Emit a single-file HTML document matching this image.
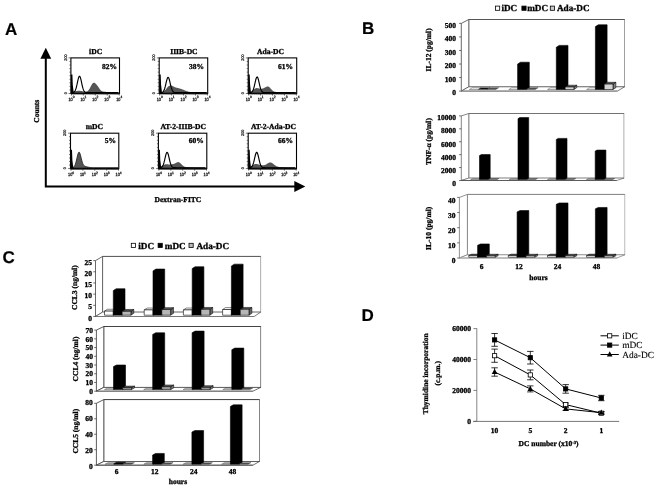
<!DOCTYPE html>
<html><head><meta charset="utf-8"><title>Figure</title>
<style>html,body{margin:0;padding:0;background:#fff;overflow:hidden}body{width:659px;height:488px;font-family:"Liberation Serif",serif}svg{display:block}</style>
</head><body>
<svg width="659" height="488" viewBox="0 0 659 488" style="filter:blur(0.5px);text-rendering:geometricPrecision">
<text x="4.90" y="34.90" font-family="Liberation Sans" font-weight="bold" font-size="17" text-anchor="start" fill="#000" stroke="#000" stroke-width="0.2">A</text>
<text x="361.90" y="34.40" font-family="Liberation Sans" font-weight="bold" font-size="17" text-anchor="start" fill="#000" stroke="#000" stroke-width="0.2">B</text>
<text x="2.60" y="262.90" font-family="Liberation Sans" font-weight="bold" font-size="17" text-anchor="start" fill="#000" stroke="#000" stroke-width="0.2">C</text>
<text x="361.60" y="320.80" font-family="Liberation Sans" font-weight="bold" font-size="17" text-anchor="start" fill="#000" stroke="#000" stroke-width="0.2">D</text>
<path d="M45.8 58 V186.45 H296" fill="none" stroke="#000" stroke-width="2.0"/>
<polygon points="45.8,47.8 40.4,58.8 51.2,58.8" fill="#000"/>
<polygon points="305.3,186.45 294.3,181.0 294.3,191.9" fill="#000"/>
<text x="39.00" y="111.20" font-family="Liberation Serif" font-weight="bold" font-size="7.5" text-anchor="middle" fill="#000" transform="rotate(-90 39.00 111.20)" stroke="#000" stroke-width="0.3">Counts</text>
<text x="177.90" y="202.10" font-family="Liberation Serif" font-weight="bold" font-size="7.5" text-anchor="middle" fill="#000" stroke="#000" stroke-width="0.3">Dextran-FITC</text>
<path d="M71.70 93.50 L71.70 91.96 L72.20 91.87 L72.70 91.77 L73.20 91.66 L73.70 91.55 L74.20 91.44 L74.70 91.34 L75.20 91.23 L75.70 91.13 L76.20 91.04 L76.70 90.97 L77.20 90.90 L77.70 90.85 L78.20 90.82 L78.70 90.80 L79.20 90.80 L79.70 90.82 L80.20 90.86 L80.70 90.91 L81.20 90.98 L81.70 91.06 L82.20 91.15 L82.70 91.24 L83.20 91.34 L83.70 91.43 L84.20 91.52 L84.70 91.59 L85.20 91.63 L85.70 91.63 L86.20 91.58 L86.70 91.47 L87.20 91.26 L87.70 90.95 L88.20 90.51 L88.70 89.95 L89.20 89.25 L89.70 88.44 L90.20 87.53 L90.70 86.57 L91.20 85.62 L91.70 84.71 L92.20 83.93 L92.70 83.31 L93.20 82.89 L93.70 82.68 L94.20 82.68 L94.70 82.86 L95.20 83.19 L95.70 83.63 L96.20 84.15 L96.70 84.74 L97.20 85.38 L97.70 86.08 L98.20 86.81 L98.70 87.56 L99.20 88.32 L99.70 89.04 L100.20 89.69 L100.70 90.25 L101.20 90.71 L101.70 91.06 L102.20 91.32 L102.70 91.50 L103.20 91.61 L103.70 91.69 L104.20 91.74 L104.70 91.79 L105.20 91.83 L105.70 91.87 L106.20 91.92 L106.70 91.97 L107.20 92.03 L107.70 92.09 L108.20 92.15 L108.70 92.21 L109.20 92.27 L109.70 92.32 L110.20 92.37 L110.70 92.41 L111.20 92.45 L111.70 92.48 L112.20 92.51 L112.70 92.53 L113.20 92.55 L113.70 92.56 L114.20 92.57 L114.70 92.58 L115.20 92.59 L115.70 92.59 L116.20 92.59 L116.70 92.60 L117.20 92.60 L117.70 92.60 L118.20 92.60 L118.50 93.50 Z" fill="#555"/>
<path d="M72.40 92.55 L72.90 92.48 L73.40 92.36 L73.90 92.13 L74.40 91.74 L74.90 91.11 L75.40 90.16 L75.90 88.83 L76.40 87.08 L76.90 84.98 L77.40 82.65 L77.90 80.33 L78.40 78.30 L78.90 76.86 L79.40 76.22 L79.90 76.49 L80.40 77.64 L80.90 79.47 L81.40 81.71 L81.90 84.06 L82.40 86.28 L82.90 88.18 L83.40 89.68 L83.90 90.77 L84.40 91.52 L84.90 92.00 L85.40 92.28 L85.90 92.44 L86.40 92.53 L86.90 92.57 L87.40 92.59 L87.90 92.59 L88.40 92.60 L88.90 92.60 L89.40 92.60 L89.90 92.60 L90.40 92.60 L90.90 92.60 L91.40 92.60 L91.90 92.60 L92.40 92.60 L92.90 92.60 L93.40 92.60 L93.90 92.60 L94.40 92.60 L94.90 92.60 L95.40 92.60 L95.90 92.60 L96.40 92.60 L96.90 92.60 L97.40 92.60 L97.90 92.60 L98.40 92.60 L98.90 92.60 L99.40 92.60 L99.90 92.60 L100.40 92.60 L100.90 92.60 L101.40 92.60 L101.90 92.60 L102.40 92.60 L102.90 92.60 L103.40 92.60 L103.90 92.60 L104.40 92.60 L104.90 92.60 L105.40 92.60 L105.90 92.60 L106.40 92.60 L106.90 92.60 L107.40 92.60 L107.90 92.60 L108.40 92.60 L108.90 92.60 L109.40 92.60 L109.90 92.60 L110.40 92.60 L110.90 92.60 L111.40 92.60 L111.90 92.60 L112.40 92.60 L112.90 92.60 L113.40 92.60 L113.90 92.60 L114.40 92.60 L114.90 92.60 L115.40 92.60 L115.90 92.60 L116.40 92.60 L116.90 92.60 L117.40 92.60 L117.90 92.60 L118.40 92.60" fill="none" stroke="#000" stroke-width="1.15" stroke-linejoin="round"/>
<polygon points="70.90,74.50 72.40,74.50 72.80,84.90 73.80,93.50 70.90,93.50" fill="#000"/>
<rect x="70.90" y="57.90" width="48.60" height="35.60" fill="none" stroke="#000" stroke-width="1.1"/>
<line x1="70.90" y1="93.50" x2="119.50" y2="93.50" stroke="#000" stroke-width="1.6"/>
<text x="95.60" y="54.00" font-family="Liberation Serif" font-weight="bold" font-size="7.6" text-anchor="middle" fill="#000" stroke="#000" stroke-width="0.3">iDC</text>
<text x="116.90" y="69.30" font-family="Liberation Serif" font-weight="bold" font-size="7.5" text-anchor="end" fill="#000" stroke="#000" stroke-width="0.3">82%</text>
<line x1="71.40" y1="93.50" x2="71.40" y2="95.50" stroke="#222" stroke-width="0.7"/>
<text x="70.55" y="100.80" font-family="Liberation Sans" font-weight="normal" font-size="4.7" text-anchor="middle" fill="#222" textLength="4.2" lengthAdjust="spacingAndGlyphs" stroke="#222" stroke-width="0.3">10</text>
<text x="73.55" y="98.40" font-family="Liberation Sans" font-weight="normal" font-size="3.3" text-anchor="middle" fill="#222" stroke="#222" stroke-width="0.25">0</text>
<line x1="83.35" y1="93.50" x2="83.35" y2="95.50" stroke="#222" stroke-width="0.7"/>
<text x="82.50" y="100.80" font-family="Liberation Sans" font-weight="normal" font-size="4.7" text-anchor="middle" fill="#222" textLength="4.2" lengthAdjust="spacingAndGlyphs" stroke="#222" stroke-width="0.3">10</text>
<text x="85.50" y="98.40" font-family="Liberation Sans" font-weight="normal" font-size="3.3" text-anchor="middle" fill="#222" stroke="#222" stroke-width="0.25">1</text>
<line x1="95.30" y1="93.50" x2="95.30" y2="95.50" stroke="#222" stroke-width="0.7"/>
<text x="94.45" y="100.80" font-family="Liberation Sans" font-weight="normal" font-size="4.7" text-anchor="middle" fill="#222" textLength="4.2" lengthAdjust="spacingAndGlyphs" stroke="#222" stroke-width="0.3">10</text>
<text x="97.45" y="98.40" font-family="Liberation Sans" font-weight="normal" font-size="3.3" text-anchor="middle" fill="#222" stroke="#222" stroke-width="0.25">2</text>
<line x1="107.25" y1="93.50" x2="107.25" y2="95.50" stroke="#222" stroke-width="0.7"/>
<text x="106.40" y="100.80" font-family="Liberation Sans" font-weight="normal" font-size="4.7" text-anchor="middle" fill="#222" textLength="4.2" lengthAdjust="spacingAndGlyphs" stroke="#222" stroke-width="0.3">10</text>
<text x="109.40" y="98.40" font-family="Liberation Sans" font-weight="normal" font-size="3.3" text-anchor="middle" fill="#222" stroke="#222" stroke-width="0.25">3</text>
<line x1="119.20" y1="93.50" x2="119.20" y2="95.50" stroke="#222" stroke-width="0.7"/>
<text x="118.35" y="100.80" font-family="Liberation Sans" font-weight="normal" font-size="4.7" text-anchor="middle" fill="#222" textLength="4.2" lengthAdjust="spacingAndGlyphs" stroke="#222" stroke-width="0.3">10</text>
<text x="121.35" y="98.40" font-family="Liberation Sans" font-weight="normal" font-size="3.3" text-anchor="middle" fill="#222" stroke="#222" stroke-width="0.25">4</text>
<line x1="75.00" y1="93.50" x2="75.00" y2="94.70" stroke="#555" stroke-width="0.35"/>
<line x1="77.10" y1="93.50" x2="77.10" y2="94.70" stroke="#555" stroke-width="0.35"/>
<line x1="78.59" y1="93.50" x2="78.59" y2="94.70" stroke="#555" stroke-width="0.35"/>
<line x1="79.75" y1="93.50" x2="79.75" y2="94.70" stroke="#555" stroke-width="0.35"/>
<line x1="80.70" y1="93.50" x2="80.70" y2="94.70" stroke="#555" stroke-width="0.35"/>
<line x1="81.50" y1="93.50" x2="81.50" y2="94.70" stroke="#555" stroke-width="0.35"/>
<line x1="82.19" y1="93.50" x2="82.19" y2="94.70" stroke="#555" stroke-width="0.35"/>
<line x1="82.80" y1="93.50" x2="82.80" y2="94.70" stroke="#555" stroke-width="0.35"/>
<line x1="86.95" y1="93.50" x2="86.95" y2="94.70" stroke="#555" stroke-width="0.35"/>
<line x1="89.05" y1="93.50" x2="89.05" y2="94.70" stroke="#555" stroke-width="0.35"/>
<line x1="90.54" y1="93.50" x2="90.54" y2="94.70" stroke="#555" stroke-width="0.35"/>
<line x1="91.70" y1="93.50" x2="91.70" y2="94.70" stroke="#555" stroke-width="0.35"/>
<line x1="92.65" y1="93.50" x2="92.65" y2="94.70" stroke="#555" stroke-width="0.35"/>
<line x1="93.45" y1="93.50" x2="93.45" y2="94.70" stroke="#555" stroke-width="0.35"/>
<line x1="94.14" y1="93.50" x2="94.14" y2="94.70" stroke="#555" stroke-width="0.35"/>
<line x1="94.75" y1="93.50" x2="94.75" y2="94.70" stroke="#555" stroke-width="0.35"/>
<line x1="98.90" y1="93.50" x2="98.90" y2="94.70" stroke="#555" stroke-width="0.35"/>
<line x1="101.00" y1="93.50" x2="101.00" y2="94.70" stroke="#555" stroke-width="0.35"/>
<line x1="102.49" y1="93.50" x2="102.49" y2="94.70" stroke="#555" stroke-width="0.35"/>
<line x1="103.65" y1="93.50" x2="103.65" y2="94.70" stroke="#555" stroke-width="0.35"/>
<line x1="104.60" y1="93.50" x2="104.60" y2="94.70" stroke="#555" stroke-width="0.35"/>
<line x1="105.40" y1="93.50" x2="105.40" y2="94.70" stroke="#555" stroke-width="0.35"/>
<line x1="106.09" y1="93.50" x2="106.09" y2="94.70" stroke="#555" stroke-width="0.35"/>
<line x1="106.70" y1="93.50" x2="106.70" y2="94.70" stroke="#555" stroke-width="0.35"/>
<line x1="110.85" y1="93.50" x2="110.85" y2="94.70" stroke="#555" stroke-width="0.35"/>
<line x1="112.95" y1="93.50" x2="112.95" y2="94.70" stroke="#555" stroke-width="0.35"/>
<line x1="114.44" y1="93.50" x2="114.44" y2="94.70" stroke="#555" stroke-width="0.35"/>
<line x1="115.60" y1="93.50" x2="115.60" y2="94.70" stroke="#555" stroke-width="0.35"/>
<line x1="116.55" y1="93.50" x2="116.55" y2="94.70" stroke="#555" stroke-width="0.35"/>
<line x1="117.35" y1="93.50" x2="117.35" y2="94.70" stroke="#555" stroke-width="0.35"/>
<line x1="118.04" y1="93.50" x2="118.04" y2="94.70" stroke="#555" stroke-width="0.35"/>
<line x1="118.65" y1="93.50" x2="118.65" y2="94.70" stroke="#555" stroke-width="0.35"/>
<line x1="68.50" y1="57.90" x2="70.90" y2="57.90" stroke="#222" stroke-width="0.6"/>
<line x1="69.40" y1="61.46" x2="70.90" y2="61.46" stroke="#222" stroke-width="0.6"/>
<line x1="69.40" y1="65.02" x2="70.90" y2="65.02" stroke="#222" stroke-width="0.6"/>
<line x1="69.40" y1="68.58" x2="70.90" y2="68.58" stroke="#222" stroke-width="0.6"/>
<line x1="69.40" y1="72.14" x2="70.90" y2="72.14" stroke="#222" stroke-width="0.6"/>
<line x1="69.40" y1="75.70" x2="70.90" y2="75.70" stroke="#222" stroke-width="0.6"/>
<line x1="69.40" y1="79.26" x2="70.90" y2="79.26" stroke="#222" stroke-width="0.6"/>
<line x1="69.40" y1="82.82" x2="70.90" y2="82.82" stroke="#222" stroke-width="0.6"/>
<line x1="69.40" y1="86.38" x2="70.90" y2="86.38" stroke="#222" stroke-width="0.6"/>
<line x1="69.40" y1="89.94" x2="70.90" y2="89.94" stroke="#222" stroke-width="0.6"/>
<line x1="68.50" y1="93.50" x2="70.90" y2="93.50" stroke="#222" stroke-width="0.6"/>
<text x="66.90" y="57.50" font-family="Liberation Sans" font-weight="normal" font-size="3.8" text-anchor="middle" fill="#222" transform="rotate(-90 66.90 57.50)" stroke="#222" stroke-width="0.25">200</text>
<text x="66.90" y="93.10" font-family="Liberation Sans" font-weight="normal" font-size="3.8" text-anchor="middle" fill="#222" transform="rotate(-90 66.90 93.10)" stroke="#222" stroke-width="0.25">0</text>
<path d="M160.00 93.50 L160.00 92.42 L160.50 92.36 L161.00 92.28 L161.50 92.18 L162.00 92.05 L162.50 91.88 L163.00 91.66 L163.50 91.39 L164.00 91.06 L164.50 90.67 L165.00 90.21 L165.50 89.70 L166.00 89.14 L166.50 88.55 L167.00 87.95 L167.50 87.37 L168.00 86.82 L168.50 86.33 L169.00 85.93 L169.50 85.63 L170.00 85.44 L170.50 85.36 L171.00 85.39 L171.50 85.51 L172.00 85.70 L172.50 85.94 L173.00 86.21 L173.50 86.49 L174.00 86.76 L174.50 87.01 L175.00 87.23 L175.50 87.42 L176.00 87.58 L176.50 87.72 L177.00 87.85 L177.50 87.96 L178.00 88.07 L178.50 88.18 L179.00 88.30 L179.50 88.42 L180.00 88.56 L180.50 88.72 L181.00 88.88 L181.50 89.06 L182.00 89.25 L182.50 89.44 L183.00 89.64 L183.50 89.85 L184.00 90.05 L184.50 90.26 L185.00 90.46 L185.50 90.65 L186.00 90.84 L186.50 91.02 L187.00 91.19 L187.50 91.35 L188.00 91.49 L188.50 91.63 L189.00 91.75 L189.50 91.87 L190.00 91.97 L190.50 92.06 L191.00 92.14 L191.50 92.21 L192.00 92.27 L192.50 92.32 L193.00 92.37 L193.50 92.41 L194.00 92.44 L194.50 92.47 L195.00 92.50 L195.50 92.52 L196.00 92.53 L196.50 92.55 L197.00 92.56 L197.50 92.57 L198.00 92.57 L198.50 92.58 L199.00 92.58 L199.50 92.59 L200.00 92.59 L200.50 92.59 L201.00 92.59 L201.50 92.60 L202.00 92.60 L202.50 92.60 L203.00 92.60 L203.50 92.60 L204.00 92.60 L204.50 92.60 L205.00 92.60 L205.50 92.60 L206.00 92.60 L206.50 92.60 L206.70 93.50 Z" fill="#555"/>
<path d="M160.70 92.57 L161.20 92.53 L161.70 92.45 L162.20 92.30 L162.70 92.04 L163.20 91.59 L163.70 90.90 L164.20 89.87 L164.70 88.47 L165.20 86.70 L165.70 84.64 L166.20 82.44 L166.70 80.35 L167.20 78.64 L167.70 77.58 L168.20 77.32 L168.70 77.91 L169.20 79.26 L169.70 81.15 L170.20 83.32 L170.70 85.49 L171.20 87.45 L171.70 89.08 L172.20 90.33 L172.70 91.21 L173.20 91.80 L173.70 92.16 L174.20 92.37 L174.70 92.49 L175.20 92.55 L175.70 92.58 L176.20 92.59 L176.70 92.60 L177.20 92.60 L177.70 92.60 L178.20 92.60 L178.70 92.60 L179.20 92.60 L179.70 92.60 L180.20 92.60 L180.70 92.60 L181.20 92.60 L181.70 92.60 L182.20 92.60 L182.70 92.60 L183.20 92.60 L183.70 92.60 L184.20 92.60 L184.70 92.60 L185.20 92.60 L185.70 92.60 L186.20 92.60 L186.70 92.60 L187.20 92.60 L187.70 92.60 L188.20 92.60 L188.70 92.60 L189.20 92.60 L189.70 92.60 L190.20 92.60 L190.70 92.60 L191.20 92.60 L191.70 92.60 L192.20 92.60 L192.70 92.60 L193.20 92.60 L193.70 92.60 L194.20 92.60 L194.70 92.60 L195.20 92.60 L195.70 92.60 L196.20 92.60 L196.70 92.60 L197.20 92.60 L197.70 92.60 L198.20 92.60 L198.70 92.60 L199.20 92.60 L199.70 92.60 L200.20 92.60 L200.70 92.60 L201.20 92.60 L201.70 92.60 L202.20 92.60 L202.70 92.60 L203.20 92.60 L203.70 92.60 L204.20 92.60 L204.70 92.60 L205.20 92.60 L205.70 92.60 L206.20 92.60 L206.70 92.60" fill="none" stroke="#000" stroke-width="1.15" stroke-linejoin="round"/>
<polygon points="159.20,74.50 160.70,74.50 161.10,84.90 162.10,93.50 159.20,93.50" fill="#000"/>
<rect x="159.20" y="57.90" width="48.50" height="35.60" fill="none" stroke="#000" stroke-width="1.1"/>
<line x1="159.20" y1="93.50" x2="207.70" y2="93.50" stroke="#000" stroke-width="1.6"/>
<text x="183.90" y="54.00" font-family="Liberation Serif" font-weight="bold" font-size="7.6" text-anchor="middle" fill="#000" stroke="#000" stroke-width="0.3">IIIB-DC</text>
<text x="204.00" y="69.30" font-family="Liberation Serif" font-weight="bold" font-size="7.5" text-anchor="end" fill="#000" stroke="#000" stroke-width="0.3">38%</text>
<line x1="159.70" y1="93.50" x2="159.70" y2="95.50" stroke="#222" stroke-width="0.7"/>
<text x="158.85" y="100.80" font-family="Liberation Sans" font-weight="normal" font-size="4.7" text-anchor="middle" fill="#222" textLength="4.2" lengthAdjust="spacingAndGlyphs" stroke="#222" stroke-width="0.3">10</text>
<text x="161.85" y="98.40" font-family="Liberation Sans" font-weight="normal" font-size="3.3" text-anchor="middle" fill="#222" stroke="#222" stroke-width="0.25">0</text>
<line x1="171.62" y1="93.50" x2="171.62" y2="95.50" stroke="#222" stroke-width="0.7"/>
<text x="170.78" y="100.80" font-family="Liberation Sans" font-weight="normal" font-size="4.7" text-anchor="middle" fill="#222" textLength="4.2" lengthAdjust="spacingAndGlyphs" stroke="#222" stroke-width="0.3">10</text>
<text x="173.78" y="98.40" font-family="Liberation Sans" font-weight="normal" font-size="3.3" text-anchor="middle" fill="#222" stroke="#222" stroke-width="0.25">1</text>
<line x1="183.55" y1="93.50" x2="183.55" y2="95.50" stroke="#222" stroke-width="0.7"/>
<text x="182.70" y="100.80" font-family="Liberation Sans" font-weight="normal" font-size="4.7" text-anchor="middle" fill="#222" textLength="4.2" lengthAdjust="spacingAndGlyphs" stroke="#222" stroke-width="0.3">10</text>
<text x="185.70" y="98.40" font-family="Liberation Sans" font-weight="normal" font-size="3.3" text-anchor="middle" fill="#222" stroke="#222" stroke-width="0.25">2</text>
<line x1="195.47" y1="93.50" x2="195.47" y2="95.50" stroke="#222" stroke-width="0.7"/>
<text x="194.62" y="100.80" font-family="Liberation Sans" font-weight="normal" font-size="4.7" text-anchor="middle" fill="#222" textLength="4.2" lengthAdjust="spacingAndGlyphs" stroke="#222" stroke-width="0.3">10</text>
<text x="197.62" y="98.40" font-family="Liberation Sans" font-weight="normal" font-size="3.3" text-anchor="middle" fill="#222" stroke="#222" stroke-width="0.25">3</text>
<line x1="207.40" y1="93.50" x2="207.40" y2="95.50" stroke="#222" stroke-width="0.7"/>
<text x="206.55" y="100.80" font-family="Liberation Sans" font-weight="normal" font-size="4.7" text-anchor="middle" fill="#222" textLength="4.2" lengthAdjust="spacingAndGlyphs" stroke="#222" stroke-width="0.3">10</text>
<text x="209.55" y="98.40" font-family="Liberation Sans" font-weight="normal" font-size="3.3" text-anchor="middle" fill="#222" stroke="#222" stroke-width="0.25">4</text>
<line x1="163.29" y1="93.50" x2="163.29" y2="94.70" stroke="#555" stroke-width="0.35"/>
<line x1="165.39" y1="93.50" x2="165.39" y2="94.70" stroke="#555" stroke-width="0.35"/>
<line x1="166.88" y1="93.50" x2="166.88" y2="94.70" stroke="#555" stroke-width="0.35"/>
<line x1="168.04" y1="93.50" x2="168.04" y2="94.70" stroke="#555" stroke-width="0.35"/>
<line x1="168.98" y1="93.50" x2="168.98" y2="94.70" stroke="#555" stroke-width="0.35"/>
<line x1="169.78" y1="93.50" x2="169.78" y2="94.70" stroke="#555" stroke-width="0.35"/>
<line x1="170.47" y1="93.50" x2="170.47" y2="94.70" stroke="#555" stroke-width="0.35"/>
<line x1="171.08" y1="93.50" x2="171.08" y2="94.70" stroke="#555" stroke-width="0.35"/>
<line x1="175.21" y1="93.50" x2="175.21" y2="94.70" stroke="#555" stroke-width="0.35"/>
<line x1="177.31" y1="93.50" x2="177.31" y2="94.70" stroke="#555" stroke-width="0.35"/>
<line x1="178.80" y1="93.50" x2="178.80" y2="94.70" stroke="#555" stroke-width="0.35"/>
<line x1="179.96" y1="93.50" x2="179.96" y2="94.70" stroke="#555" stroke-width="0.35"/>
<line x1="180.90" y1="93.50" x2="180.90" y2="94.70" stroke="#555" stroke-width="0.35"/>
<line x1="181.70" y1="93.50" x2="181.70" y2="94.70" stroke="#555" stroke-width="0.35"/>
<line x1="182.39" y1="93.50" x2="182.39" y2="94.70" stroke="#555" stroke-width="0.35"/>
<line x1="183.00" y1="93.50" x2="183.00" y2="94.70" stroke="#555" stroke-width="0.35"/>
<line x1="187.14" y1="93.50" x2="187.14" y2="94.70" stroke="#555" stroke-width="0.35"/>
<line x1="189.24" y1="93.50" x2="189.24" y2="94.70" stroke="#555" stroke-width="0.35"/>
<line x1="190.73" y1="93.50" x2="190.73" y2="94.70" stroke="#555" stroke-width="0.35"/>
<line x1="191.89" y1="93.50" x2="191.89" y2="94.70" stroke="#555" stroke-width="0.35"/>
<line x1="192.83" y1="93.50" x2="192.83" y2="94.70" stroke="#555" stroke-width="0.35"/>
<line x1="193.63" y1="93.50" x2="193.63" y2="94.70" stroke="#555" stroke-width="0.35"/>
<line x1="194.32" y1="93.50" x2="194.32" y2="94.70" stroke="#555" stroke-width="0.35"/>
<line x1="194.93" y1="93.50" x2="194.93" y2="94.70" stroke="#555" stroke-width="0.35"/>
<line x1="199.06" y1="93.50" x2="199.06" y2="94.70" stroke="#555" stroke-width="0.35"/>
<line x1="201.16" y1="93.50" x2="201.16" y2="94.70" stroke="#555" stroke-width="0.35"/>
<line x1="202.65" y1="93.50" x2="202.65" y2="94.70" stroke="#555" stroke-width="0.35"/>
<line x1="203.81" y1="93.50" x2="203.81" y2="94.70" stroke="#555" stroke-width="0.35"/>
<line x1="204.75" y1="93.50" x2="204.75" y2="94.70" stroke="#555" stroke-width="0.35"/>
<line x1="205.55" y1="93.50" x2="205.55" y2="94.70" stroke="#555" stroke-width="0.35"/>
<line x1="206.24" y1="93.50" x2="206.24" y2="94.70" stroke="#555" stroke-width="0.35"/>
<line x1="206.85" y1="93.50" x2="206.85" y2="94.70" stroke="#555" stroke-width="0.35"/>
<line x1="156.80" y1="57.90" x2="159.20" y2="57.90" stroke="#222" stroke-width="0.6"/>
<line x1="157.70" y1="61.46" x2="159.20" y2="61.46" stroke="#222" stroke-width="0.6"/>
<line x1="157.70" y1="65.02" x2="159.20" y2="65.02" stroke="#222" stroke-width="0.6"/>
<line x1="157.70" y1="68.58" x2="159.20" y2="68.58" stroke="#222" stroke-width="0.6"/>
<line x1="157.70" y1="72.14" x2="159.20" y2="72.14" stroke="#222" stroke-width="0.6"/>
<line x1="157.70" y1="75.70" x2="159.20" y2="75.70" stroke="#222" stroke-width="0.6"/>
<line x1="157.70" y1="79.26" x2="159.20" y2="79.26" stroke="#222" stroke-width="0.6"/>
<line x1="157.70" y1="82.82" x2="159.20" y2="82.82" stroke="#222" stroke-width="0.6"/>
<line x1="157.70" y1="86.38" x2="159.20" y2="86.38" stroke="#222" stroke-width="0.6"/>
<line x1="157.70" y1="89.94" x2="159.20" y2="89.94" stroke="#222" stroke-width="0.6"/>
<line x1="156.80" y1="93.50" x2="159.20" y2="93.50" stroke="#222" stroke-width="0.6"/>
<text x="155.20" y="57.50" font-family="Liberation Sans" font-weight="normal" font-size="3.8" text-anchor="middle" fill="#222" transform="rotate(-90 155.20 57.50)" stroke="#222" stroke-width="0.25">200</text>
<text x="155.20" y="93.10" font-family="Liberation Sans" font-weight="normal" font-size="3.8" text-anchor="middle" fill="#222" transform="rotate(-90 155.20 93.10)" stroke="#222" stroke-width="0.25">0</text>
<path d="M249.00 93.50 L249.00 92.36 L249.50 92.25 L250.00 92.10 L250.50 91.91 L251.00 91.66 L251.50 91.37 L252.00 91.02 L252.50 90.63 L253.00 90.21 L253.50 89.78 L254.00 89.35 L254.50 88.96 L255.00 88.63 L255.50 88.36 L256.00 88.18 L256.50 88.09 L257.00 88.08 L257.50 88.13 L258.00 88.23 L258.50 88.36 L259.00 88.48 L259.50 88.59 L260.00 88.68 L260.50 88.73 L261.00 88.75 L261.50 88.73 L262.00 88.68 L262.50 88.59 L263.00 88.47 L263.50 88.31 L264.00 88.10 L264.50 87.85 L265.00 87.56 L265.50 87.26 L266.00 86.96 L266.50 86.70 L267.00 86.51 L267.50 86.42 L268.00 86.45 L268.50 86.62 L269.00 86.92 L269.50 87.35 L270.00 87.86 L270.50 88.42 L271.00 89.00 L271.50 89.57 L272.00 90.10 L272.50 90.56 L273.00 90.94 L273.50 91.25 L274.00 91.48 L274.50 91.65 L275.00 91.77 L275.50 91.85 L276.00 91.90 L276.50 91.93 L277.00 91.95 L277.50 91.97 L278.00 92.00 L278.50 92.02 L279.00 92.05 L279.50 92.09 L280.00 92.13 L280.50 92.17 L281.00 92.22 L281.50 92.26 L282.00 92.31 L282.50 92.35 L283.00 92.39 L283.50 92.43 L284.00 92.46 L284.50 92.49 L285.00 92.51 L285.50 92.53 L286.00 92.55 L286.50 92.56 L287.00 92.57 L287.50 92.58 L288.00 92.58 L288.50 92.59 L289.00 92.59 L289.50 92.59 L290.00 92.60 L290.50 92.60 L291.00 92.60 L291.50 92.60 L292.00 92.60 L292.50 92.60 L293.00 92.60 L293.50 92.60 L294.00 92.60 L294.50 92.60 L295.00 92.60 L295.50 92.60 L295.70 93.50 Z" fill="#555"/>
<path d="M249.70 92.57 L250.20 92.53 L250.70 92.45 L251.20 92.30 L251.70 92.02 L252.20 91.57 L252.70 90.85 L253.20 89.80 L253.70 88.37 L254.20 86.55 L254.70 84.43 L255.20 82.17 L255.70 80.03 L256.20 78.28 L256.70 77.18 L257.20 76.92 L257.70 77.53 L258.20 78.91 L258.70 80.86 L259.20 83.08 L259.70 85.30 L260.20 87.32 L260.70 88.99 L261.20 90.27 L261.70 91.17 L262.20 91.78 L262.70 92.15 L263.20 92.37 L263.70 92.49 L264.20 92.55 L264.70 92.58 L265.20 92.59 L265.70 92.60 L266.20 92.60 L266.70 92.60 L267.20 92.60 L267.70 92.60 L268.20 92.60 L268.70 92.60 L269.20 92.60 L269.70 92.60 L270.20 92.60 L270.70 92.60 L271.20 92.60 L271.70 92.60 L272.20 92.60 L272.70 92.60 L273.20 92.60 L273.70 92.60 L274.20 92.60 L274.70 92.60 L275.20 92.60 L275.70 92.60 L276.20 92.60 L276.70 92.60 L277.20 92.60 L277.70 92.60 L278.20 92.60 L278.70 92.60 L279.20 92.60 L279.70 92.60 L280.20 92.60 L280.70 92.60 L281.20 92.60 L281.70 92.60 L282.20 92.60 L282.70 92.60 L283.20 92.60 L283.70 92.60 L284.20 92.60 L284.70 92.60 L285.20 92.60 L285.70 92.60 L286.20 92.60 L286.70 92.60 L287.20 92.60 L287.70 92.60 L288.20 92.60 L288.70 92.60 L289.20 92.60 L289.70 92.60 L290.20 92.60 L290.70 92.60 L291.20 92.60 L291.70 92.60 L292.20 92.60 L292.70 92.60 L293.20 92.60 L293.70 92.60 L294.20 92.60 L294.70 92.60 L295.20 92.60 L295.70 92.60" fill="none" stroke="#000" stroke-width="1.15" stroke-linejoin="round"/>
<polygon points="248.20,74.50 249.70,74.50 250.10,84.90 251.10,93.50 248.20,93.50" fill="#000"/>
<rect x="248.20" y="57.90" width="48.50" height="35.60" fill="none" stroke="#000" stroke-width="1.1"/>
<line x1="248.20" y1="93.50" x2="296.70" y2="93.50" stroke="#000" stroke-width="1.6"/>
<text x="270.60" y="54.00" font-family="Liberation Serif" font-weight="bold" font-size="7.6" text-anchor="middle" fill="#000" stroke="#000" stroke-width="0.3">Ada-DC</text>
<text x="293.00" y="69.30" font-family="Liberation Serif" font-weight="bold" font-size="7.5" text-anchor="end" fill="#000" stroke="#000" stroke-width="0.3">61%</text>
<line x1="248.70" y1="93.50" x2="248.70" y2="95.50" stroke="#222" stroke-width="0.7"/>
<text x="247.85" y="100.80" font-family="Liberation Sans" font-weight="normal" font-size="4.7" text-anchor="middle" fill="#222" textLength="4.2" lengthAdjust="spacingAndGlyphs" stroke="#222" stroke-width="0.3">10</text>
<text x="250.85" y="98.40" font-family="Liberation Sans" font-weight="normal" font-size="3.3" text-anchor="middle" fill="#222" stroke="#222" stroke-width="0.25">0</text>
<line x1="260.62" y1="93.50" x2="260.62" y2="95.50" stroke="#222" stroke-width="0.7"/>
<text x="259.77" y="100.80" font-family="Liberation Sans" font-weight="normal" font-size="4.7" text-anchor="middle" fill="#222" textLength="4.2" lengthAdjust="spacingAndGlyphs" stroke="#222" stroke-width="0.3">10</text>
<text x="262.77" y="98.40" font-family="Liberation Sans" font-weight="normal" font-size="3.3" text-anchor="middle" fill="#222" stroke="#222" stroke-width="0.25">1</text>
<line x1="272.55" y1="93.50" x2="272.55" y2="95.50" stroke="#222" stroke-width="0.7"/>
<text x="271.70" y="100.80" font-family="Liberation Sans" font-weight="normal" font-size="4.7" text-anchor="middle" fill="#222" textLength="4.2" lengthAdjust="spacingAndGlyphs" stroke="#222" stroke-width="0.3">10</text>
<text x="274.70" y="98.40" font-family="Liberation Sans" font-weight="normal" font-size="3.3" text-anchor="middle" fill="#222" stroke="#222" stroke-width="0.25">2</text>
<line x1="284.48" y1="93.50" x2="284.48" y2="95.50" stroke="#222" stroke-width="0.7"/>
<text x="283.62" y="100.80" font-family="Liberation Sans" font-weight="normal" font-size="4.7" text-anchor="middle" fill="#222" textLength="4.2" lengthAdjust="spacingAndGlyphs" stroke="#222" stroke-width="0.3">10</text>
<text x="286.62" y="98.40" font-family="Liberation Sans" font-weight="normal" font-size="3.3" text-anchor="middle" fill="#222" stroke="#222" stroke-width="0.25">3</text>
<line x1="296.40" y1="93.50" x2="296.40" y2="95.50" stroke="#222" stroke-width="0.7"/>
<text x="295.55" y="100.80" font-family="Liberation Sans" font-weight="normal" font-size="4.7" text-anchor="middle" fill="#222" textLength="4.2" lengthAdjust="spacingAndGlyphs" stroke="#222" stroke-width="0.3">10</text>
<text x="298.55" y="98.40" font-family="Liberation Sans" font-weight="normal" font-size="3.3" text-anchor="middle" fill="#222" stroke="#222" stroke-width="0.25">4</text>
<line x1="252.29" y1="93.50" x2="252.29" y2="94.70" stroke="#555" stroke-width="0.35"/>
<line x1="254.39" y1="93.50" x2="254.39" y2="94.70" stroke="#555" stroke-width="0.35"/>
<line x1="255.88" y1="93.50" x2="255.88" y2="94.70" stroke="#555" stroke-width="0.35"/>
<line x1="257.04" y1="93.50" x2="257.04" y2="94.70" stroke="#555" stroke-width="0.35"/>
<line x1="257.98" y1="93.50" x2="257.98" y2="94.70" stroke="#555" stroke-width="0.35"/>
<line x1="258.78" y1="93.50" x2="258.78" y2="94.70" stroke="#555" stroke-width="0.35"/>
<line x1="259.47" y1="93.50" x2="259.47" y2="94.70" stroke="#555" stroke-width="0.35"/>
<line x1="260.08" y1="93.50" x2="260.08" y2="94.70" stroke="#555" stroke-width="0.35"/>
<line x1="264.21" y1="93.50" x2="264.21" y2="94.70" stroke="#555" stroke-width="0.35"/>
<line x1="266.31" y1="93.50" x2="266.31" y2="94.70" stroke="#555" stroke-width="0.35"/>
<line x1="267.80" y1="93.50" x2="267.80" y2="94.70" stroke="#555" stroke-width="0.35"/>
<line x1="268.96" y1="93.50" x2="268.96" y2="94.70" stroke="#555" stroke-width="0.35"/>
<line x1="269.90" y1="93.50" x2="269.90" y2="94.70" stroke="#555" stroke-width="0.35"/>
<line x1="270.70" y1="93.50" x2="270.70" y2="94.70" stroke="#555" stroke-width="0.35"/>
<line x1="271.39" y1="93.50" x2="271.39" y2="94.70" stroke="#555" stroke-width="0.35"/>
<line x1="272.00" y1="93.50" x2="272.00" y2="94.70" stroke="#555" stroke-width="0.35"/>
<line x1="276.14" y1="93.50" x2="276.14" y2="94.70" stroke="#555" stroke-width="0.35"/>
<line x1="278.24" y1="93.50" x2="278.24" y2="94.70" stroke="#555" stroke-width="0.35"/>
<line x1="279.73" y1="93.50" x2="279.73" y2="94.70" stroke="#555" stroke-width="0.35"/>
<line x1="280.89" y1="93.50" x2="280.89" y2="94.70" stroke="#555" stroke-width="0.35"/>
<line x1="281.83" y1="93.50" x2="281.83" y2="94.70" stroke="#555" stroke-width="0.35"/>
<line x1="282.63" y1="93.50" x2="282.63" y2="94.70" stroke="#555" stroke-width="0.35"/>
<line x1="283.32" y1="93.50" x2="283.32" y2="94.70" stroke="#555" stroke-width="0.35"/>
<line x1="283.93" y1="93.50" x2="283.93" y2="94.70" stroke="#555" stroke-width="0.35"/>
<line x1="288.06" y1="93.50" x2="288.06" y2="94.70" stroke="#555" stroke-width="0.35"/>
<line x1="290.16" y1="93.50" x2="290.16" y2="94.70" stroke="#555" stroke-width="0.35"/>
<line x1="291.65" y1="93.50" x2="291.65" y2="94.70" stroke="#555" stroke-width="0.35"/>
<line x1="292.81" y1="93.50" x2="292.81" y2="94.70" stroke="#555" stroke-width="0.35"/>
<line x1="293.75" y1="93.50" x2="293.75" y2="94.70" stroke="#555" stroke-width="0.35"/>
<line x1="294.55" y1="93.50" x2="294.55" y2="94.70" stroke="#555" stroke-width="0.35"/>
<line x1="295.24" y1="93.50" x2="295.24" y2="94.70" stroke="#555" stroke-width="0.35"/>
<line x1="295.85" y1="93.50" x2="295.85" y2="94.70" stroke="#555" stroke-width="0.35"/>
<line x1="245.80" y1="57.90" x2="248.20" y2="57.90" stroke="#222" stroke-width="0.6"/>
<line x1="246.70" y1="61.46" x2="248.20" y2="61.46" stroke="#222" stroke-width="0.6"/>
<line x1="246.70" y1="65.02" x2="248.20" y2="65.02" stroke="#222" stroke-width="0.6"/>
<line x1="246.70" y1="68.58" x2="248.20" y2="68.58" stroke="#222" stroke-width="0.6"/>
<line x1="246.70" y1="72.14" x2="248.20" y2="72.14" stroke="#222" stroke-width="0.6"/>
<line x1="246.70" y1="75.70" x2="248.20" y2="75.70" stroke="#222" stroke-width="0.6"/>
<line x1="246.70" y1="79.26" x2="248.20" y2="79.26" stroke="#222" stroke-width="0.6"/>
<line x1="246.70" y1="82.82" x2="248.20" y2="82.82" stroke="#222" stroke-width="0.6"/>
<line x1="246.70" y1="86.38" x2="248.20" y2="86.38" stroke="#222" stroke-width="0.6"/>
<line x1="246.70" y1="89.94" x2="248.20" y2="89.94" stroke="#222" stroke-width="0.6"/>
<line x1="245.80" y1="93.50" x2="248.20" y2="93.50" stroke="#222" stroke-width="0.6"/>
<text x="244.20" y="57.50" font-family="Liberation Sans" font-weight="normal" font-size="3.8" text-anchor="middle" fill="#222" transform="rotate(-90 244.20 57.50)" stroke="#222" stroke-width="0.25">200</text>
<text x="244.20" y="93.10" font-family="Liberation Sans" font-weight="normal" font-size="3.8" text-anchor="middle" fill="#222" transform="rotate(-90 244.20 93.10)" stroke="#222" stroke-width="0.25">0</text>
<path d="M71.30 168.60 L71.30 167.68 L71.80 167.66 L72.30 167.61 L72.80 167.50 L73.30 167.31 L73.80 166.98 L74.30 166.45 L74.80 165.62 L75.30 164.45 L75.80 162.89 L76.30 160.98 L76.80 158.82 L77.30 156.61 L77.80 154.61 L78.30 153.09 L78.80 152.27 L79.30 152.29 L79.80 153.12 L80.30 154.62 L80.80 156.54 L81.30 158.62 L81.80 160.61 L82.30 162.33 L82.80 163.70 L83.30 164.71 L83.80 165.41 L84.30 165.87 L84.80 166.17 L85.30 166.37 L85.80 166.53 L86.30 166.66 L86.80 166.79 L87.30 166.92 L87.80 167.04 L88.30 167.16 L88.80 167.27 L89.30 167.37 L89.80 167.45 L90.30 167.51 L90.80 167.57 L91.30 167.61 L91.80 167.64 L92.30 167.66 L92.80 167.67 L93.30 167.68 L93.80 167.69 L94.30 167.69 L94.80 167.70 L95.30 167.70 L95.80 167.70 L96.30 167.70 L96.80 167.70 L97.30 167.70 L97.80 167.70 L98.30 167.70 L98.80 167.70 L99.30 167.70 L99.80 167.70 L100.30 167.70 L100.80 167.70 L101.30 167.70 L101.80 167.70 L102.30 167.70 L102.80 167.70 L103.30 167.70 L103.80 167.70 L104.30 167.70 L104.80 167.70 L105.30 167.70 L105.80 167.70 L106.30 167.70 L106.80 167.70 L107.30 167.70 L107.80 167.70 L108.30 167.70 L108.80 167.70 L109.30 167.70 L109.80 167.70 L110.30 167.70 L110.80 167.70 L111.30 167.70 L111.80 167.70 L112.30 167.70 L112.80 167.70 L113.30 167.70 L113.80 167.70 L114.30 167.70 L114.80 167.70 L115.30 167.70 L115.80 167.70 L116.30 167.70 L116.80 167.70 L117.30 167.70 L117.80 167.70 L117.80 168.60 Z" fill="#555" stroke="#222" stroke-width="0.9"/>
<polygon points="70.50,149.80 72.00,149.80 72.40,160.20 73.40,168.60 70.50,168.60" fill="#000"/>
<rect x="70.50" y="133.20" width="48.30" height="35.40" fill="none" stroke="#000" stroke-width="1.1"/>
<line x1="70.50" y1="168.60" x2="118.80" y2="168.60" stroke="#000" stroke-width="1.6"/>
<text x="94.40" y="129.10" font-family="Liberation Serif" font-weight="bold" font-size="7.6" text-anchor="middle" fill="#000" stroke="#000" stroke-width="0.3">mDC</text>
<text x="116.00" y="143.00" font-family="Liberation Serif" font-weight="bold" font-size="7.5" text-anchor="end" fill="#000" stroke="#000" stroke-width="0.3">5%</text>
<line x1="71.00" y1="168.60" x2="71.00" y2="170.60" stroke="#222" stroke-width="0.7"/>
<text x="70.15" y="175.90" font-family="Liberation Sans" font-weight="normal" font-size="4.7" text-anchor="middle" fill="#222" textLength="4.2" lengthAdjust="spacingAndGlyphs" stroke="#222" stroke-width="0.3">10</text>
<text x="73.15" y="173.50" font-family="Liberation Sans" font-weight="normal" font-size="3.3" text-anchor="middle" fill="#222" stroke="#222" stroke-width="0.25">0</text>
<line x1="82.88" y1="168.60" x2="82.88" y2="170.60" stroke="#222" stroke-width="0.7"/>
<text x="82.03" y="175.90" font-family="Liberation Sans" font-weight="normal" font-size="4.7" text-anchor="middle" fill="#222" textLength="4.2" lengthAdjust="spacingAndGlyphs" stroke="#222" stroke-width="0.3">10</text>
<text x="85.03" y="173.50" font-family="Liberation Sans" font-weight="normal" font-size="3.3" text-anchor="middle" fill="#222" stroke="#222" stroke-width="0.25">1</text>
<line x1="94.75" y1="168.60" x2="94.75" y2="170.60" stroke="#222" stroke-width="0.7"/>
<text x="93.90" y="175.90" font-family="Liberation Sans" font-weight="normal" font-size="4.7" text-anchor="middle" fill="#222" textLength="4.2" lengthAdjust="spacingAndGlyphs" stroke="#222" stroke-width="0.3">10</text>
<text x="96.90" y="173.50" font-family="Liberation Sans" font-weight="normal" font-size="3.3" text-anchor="middle" fill="#222" stroke="#222" stroke-width="0.25">2</text>
<line x1="106.62" y1="168.60" x2="106.62" y2="170.60" stroke="#222" stroke-width="0.7"/>
<text x="105.78" y="175.90" font-family="Liberation Sans" font-weight="normal" font-size="4.7" text-anchor="middle" fill="#222" textLength="4.2" lengthAdjust="spacingAndGlyphs" stroke="#222" stroke-width="0.3">10</text>
<text x="108.78" y="173.50" font-family="Liberation Sans" font-weight="normal" font-size="3.3" text-anchor="middle" fill="#222" stroke="#222" stroke-width="0.25">3</text>
<line x1="118.50" y1="168.60" x2="118.50" y2="170.60" stroke="#222" stroke-width="0.7"/>
<text x="117.65" y="175.90" font-family="Liberation Sans" font-weight="normal" font-size="4.7" text-anchor="middle" fill="#222" textLength="4.2" lengthAdjust="spacingAndGlyphs" stroke="#222" stroke-width="0.3">10</text>
<text x="120.65" y="173.50" font-family="Liberation Sans" font-weight="normal" font-size="3.3" text-anchor="middle" fill="#222" stroke="#222" stroke-width="0.25">4</text>
<line x1="74.57" y1="168.60" x2="74.57" y2="169.80" stroke="#555" stroke-width="0.35"/>
<line x1="76.67" y1="168.60" x2="76.67" y2="169.80" stroke="#555" stroke-width="0.35"/>
<line x1="78.15" y1="168.60" x2="78.15" y2="169.80" stroke="#555" stroke-width="0.35"/>
<line x1="79.30" y1="168.60" x2="79.30" y2="169.80" stroke="#555" stroke-width="0.35"/>
<line x1="80.24" y1="168.60" x2="80.24" y2="169.80" stroke="#555" stroke-width="0.35"/>
<line x1="81.04" y1="168.60" x2="81.04" y2="169.80" stroke="#555" stroke-width="0.35"/>
<line x1="81.72" y1="168.60" x2="81.72" y2="169.80" stroke="#555" stroke-width="0.35"/>
<line x1="82.33" y1="168.60" x2="82.33" y2="169.80" stroke="#555" stroke-width="0.35"/>
<line x1="86.45" y1="168.60" x2="86.45" y2="169.80" stroke="#555" stroke-width="0.35"/>
<line x1="88.54" y1="168.60" x2="88.54" y2="169.80" stroke="#555" stroke-width="0.35"/>
<line x1="90.02" y1="168.60" x2="90.02" y2="169.80" stroke="#555" stroke-width="0.35"/>
<line x1="91.18" y1="168.60" x2="91.18" y2="169.80" stroke="#555" stroke-width="0.35"/>
<line x1="92.12" y1="168.60" x2="92.12" y2="169.80" stroke="#555" stroke-width="0.35"/>
<line x1="92.91" y1="168.60" x2="92.91" y2="169.80" stroke="#555" stroke-width="0.35"/>
<line x1="93.60" y1="168.60" x2="93.60" y2="169.80" stroke="#555" stroke-width="0.35"/>
<line x1="94.21" y1="168.60" x2="94.21" y2="169.80" stroke="#555" stroke-width="0.35"/>
<line x1="98.32" y1="168.60" x2="98.32" y2="169.80" stroke="#555" stroke-width="0.35"/>
<line x1="100.42" y1="168.60" x2="100.42" y2="169.80" stroke="#555" stroke-width="0.35"/>
<line x1="101.90" y1="168.60" x2="101.90" y2="169.80" stroke="#555" stroke-width="0.35"/>
<line x1="103.05" y1="168.60" x2="103.05" y2="169.80" stroke="#555" stroke-width="0.35"/>
<line x1="103.99" y1="168.60" x2="103.99" y2="169.80" stroke="#555" stroke-width="0.35"/>
<line x1="104.79" y1="168.60" x2="104.79" y2="169.80" stroke="#555" stroke-width="0.35"/>
<line x1="105.47" y1="168.60" x2="105.47" y2="169.80" stroke="#555" stroke-width="0.35"/>
<line x1="106.08" y1="168.60" x2="106.08" y2="169.80" stroke="#555" stroke-width="0.35"/>
<line x1="110.20" y1="168.60" x2="110.20" y2="169.80" stroke="#555" stroke-width="0.35"/>
<line x1="112.29" y1="168.60" x2="112.29" y2="169.80" stroke="#555" stroke-width="0.35"/>
<line x1="113.77" y1="168.60" x2="113.77" y2="169.80" stroke="#555" stroke-width="0.35"/>
<line x1="114.93" y1="168.60" x2="114.93" y2="169.80" stroke="#555" stroke-width="0.35"/>
<line x1="115.87" y1="168.60" x2="115.87" y2="169.80" stroke="#555" stroke-width="0.35"/>
<line x1="116.66" y1="168.60" x2="116.66" y2="169.80" stroke="#555" stroke-width="0.35"/>
<line x1="117.35" y1="168.60" x2="117.35" y2="169.80" stroke="#555" stroke-width="0.35"/>
<line x1="117.96" y1="168.60" x2="117.96" y2="169.80" stroke="#555" stroke-width="0.35"/>
<line x1="68.10" y1="133.20" x2="70.50" y2="133.20" stroke="#222" stroke-width="0.6"/>
<line x1="69.00" y1="136.74" x2="70.50" y2="136.74" stroke="#222" stroke-width="0.6"/>
<line x1="69.00" y1="140.28" x2="70.50" y2="140.28" stroke="#222" stroke-width="0.6"/>
<line x1="69.00" y1="143.82" x2="70.50" y2="143.82" stroke="#222" stroke-width="0.6"/>
<line x1="69.00" y1="147.36" x2="70.50" y2="147.36" stroke="#222" stroke-width="0.6"/>
<line x1="69.00" y1="150.90" x2="70.50" y2="150.90" stroke="#222" stroke-width="0.6"/>
<line x1="69.00" y1="154.44" x2="70.50" y2="154.44" stroke="#222" stroke-width="0.6"/>
<line x1="69.00" y1="157.98" x2="70.50" y2="157.98" stroke="#222" stroke-width="0.6"/>
<line x1="69.00" y1="161.52" x2="70.50" y2="161.52" stroke="#222" stroke-width="0.6"/>
<line x1="69.00" y1="165.06" x2="70.50" y2="165.06" stroke="#222" stroke-width="0.6"/>
<line x1="68.10" y1="168.60" x2="70.50" y2="168.60" stroke="#222" stroke-width="0.6"/>
<text x="66.50" y="132.80" font-family="Liberation Sans" font-weight="normal" font-size="3.8" text-anchor="middle" fill="#222" transform="rotate(-90 66.50 132.80)" stroke="#222" stroke-width="0.25">200</text>
<text x="66.50" y="168.20" font-family="Liberation Sans" font-weight="normal" font-size="3.8" text-anchor="middle" fill="#222" transform="rotate(-90 66.50 168.20)" stroke="#222" stroke-width="0.25">0</text>
<path d="M159.20 168.60 L159.20 167.16 L159.70 166.99 L160.20 166.80 L160.70 166.57 L161.20 166.32 L161.70 166.04 L162.20 165.75 L162.70 165.46 L163.20 165.17 L163.70 164.90 L164.20 164.67 L164.70 164.47 L165.20 164.33 L165.70 164.24 L166.20 164.21 L166.70 164.22 L167.20 164.27 L167.70 164.34 L168.20 164.41 L168.70 164.47 L169.20 164.50 L169.70 164.51 L170.20 164.48 L170.70 164.43 L171.20 164.36 L171.70 164.28 L172.20 164.20 L172.70 164.11 L173.20 164.02 L173.70 163.91 L174.20 163.77 L174.70 163.58 L175.20 163.36 L175.70 163.10 L176.20 162.82 L176.70 162.54 L177.20 162.31 L177.70 162.15 L178.20 162.09 L178.70 162.15 L179.20 162.33 L179.70 162.63 L180.20 163.02 L180.70 163.48 L181.20 163.99 L181.70 164.50 L182.20 164.99 L182.70 165.44 L183.20 165.84 L183.70 166.17 L184.20 166.44 L184.70 166.65 L185.20 166.81 L185.70 166.93 L186.20 167.02 L186.70 167.08 L187.20 167.14 L187.70 167.18 L188.20 167.22 L188.70 167.26 L189.20 167.30 L189.70 167.34 L190.20 167.38 L190.70 167.42 L191.20 167.46 L191.70 167.49 L192.20 167.53 L192.70 167.56 L193.20 167.58 L193.70 167.61 L194.20 167.63 L194.70 167.64 L195.20 167.66 L195.70 167.67 L196.20 167.68 L196.70 167.68 L197.20 167.69 L197.70 167.69 L198.20 167.69 L198.70 167.70 L199.20 167.70 L199.70 167.70 L200.20 167.70 L200.70 167.70 L201.20 167.70 L201.70 167.70 L202.20 167.70 L202.70 167.70 L203.20 167.70 L203.70 167.70 L204.20 167.70 L204.70 167.70 L205.20 167.70 L205.70 167.70 L205.80 168.60 Z" fill="#555"/>
<path d="M159.90 167.66 L160.40 167.61 L160.90 167.50 L161.40 167.31 L161.90 166.98 L162.40 166.44 L162.90 165.62 L163.40 164.44 L163.90 162.88 L164.40 160.96 L164.90 158.80 L165.40 156.60 L165.90 154.62 L166.40 153.13 L166.90 152.37 L167.40 152.46 L167.90 153.38 L168.40 154.99 L168.90 157.03 L169.40 159.25 L169.90 161.37 L170.40 163.22 L170.90 164.70 L171.40 165.81 L171.90 166.57 L172.40 167.06 L172.90 167.36 L173.40 167.53 L173.90 167.62 L174.40 167.66 L174.90 167.68 L175.40 167.69 L175.90 167.70 L176.40 167.70 L176.90 167.70 L177.40 167.70 L177.90 167.70 L178.40 167.70 L178.90 167.70 L179.40 167.70 L179.90 167.70 L180.40 167.70 L180.90 167.70 L181.40 167.70 L181.90 167.70 L182.40 167.70 L182.90 167.70 L183.40 167.70 L183.90 167.70 L184.40 167.70 L184.90 167.70 L185.40 167.70 L185.90 167.70 L186.40 167.70 L186.90 167.70 L187.40 167.70 L187.90 167.70 L188.40 167.70 L188.90 167.70 L189.40 167.70 L189.90 167.70 L190.40 167.70 L190.90 167.70 L191.40 167.70 L191.90 167.70 L192.40 167.70 L192.90 167.70 L193.40 167.70 L193.90 167.70 L194.40 167.70 L194.90 167.70 L195.40 167.70 L195.90 167.70 L196.40 167.70 L196.90 167.70 L197.40 167.70 L197.90 167.70 L198.40 167.70 L198.90 167.70 L199.40 167.70 L199.90 167.70 L200.40 167.70 L200.90 167.70 L201.40 167.70 L201.90 167.70 L202.40 167.70 L202.90 167.70 L203.40 167.70 L203.90 167.70 L204.40 167.70 L204.90 167.70 L205.40 167.70" fill="none" stroke="#000" stroke-width="1.15" stroke-linejoin="round"/>
<polygon points="158.40,149.80 159.90,149.80 160.30,160.20 161.30,168.60 158.40,168.60" fill="#000"/>
<rect x="158.40" y="133.20" width="48.40" height="35.40" fill="none" stroke="#000" stroke-width="1.1"/>
<line x1="158.40" y1="168.60" x2="206.80" y2="168.60" stroke="#000" stroke-width="1.6"/>
<text x="183.20" y="129.10" font-family="Liberation Serif" font-weight="bold" font-size="7.6" text-anchor="middle" fill="#000" stroke="#000" stroke-width="0.3">AT-2-IIIB-DC</text>
<text x="203.80" y="142.80" font-family="Liberation Serif" font-weight="bold" font-size="7.5" text-anchor="end" fill="#000" stroke="#000" stroke-width="0.3">60%</text>
<line x1="158.90" y1="168.60" x2="158.90" y2="170.60" stroke="#222" stroke-width="0.7"/>
<text x="158.05" y="175.90" font-family="Liberation Sans" font-weight="normal" font-size="4.7" text-anchor="middle" fill="#222" textLength="4.2" lengthAdjust="spacingAndGlyphs" stroke="#222" stroke-width="0.3">10</text>
<text x="161.05" y="173.50" font-family="Liberation Sans" font-weight="normal" font-size="3.3" text-anchor="middle" fill="#222" stroke="#222" stroke-width="0.25">0</text>
<line x1="170.80" y1="168.60" x2="170.80" y2="170.60" stroke="#222" stroke-width="0.7"/>
<text x="169.95" y="175.90" font-family="Liberation Sans" font-weight="normal" font-size="4.7" text-anchor="middle" fill="#222" textLength="4.2" lengthAdjust="spacingAndGlyphs" stroke="#222" stroke-width="0.3">10</text>
<text x="172.95" y="173.50" font-family="Liberation Sans" font-weight="normal" font-size="3.3" text-anchor="middle" fill="#222" stroke="#222" stroke-width="0.25">1</text>
<line x1="182.70" y1="168.60" x2="182.70" y2="170.60" stroke="#222" stroke-width="0.7"/>
<text x="181.85" y="175.90" font-family="Liberation Sans" font-weight="normal" font-size="4.7" text-anchor="middle" fill="#222" textLength="4.2" lengthAdjust="spacingAndGlyphs" stroke="#222" stroke-width="0.3">10</text>
<text x="184.85" y="173.50" font-family="Liberation Sans" font-weight="normal" font-size="3.3" text-anchor="middle" fill="#222" stroke="#222" stroke-width="0.25">2</text>
<line x1="194.60" y1="168.60" x2="194.60" y2="170.60" stroke="#222" stroke-width="0.7"/>
<text x="193.75" y="175.90" font-family="Liberation Sans" font-weight="normal" font-size="4.7" text-anchor="middle" fill="#222" textLength="4.2" lengthAdjust="spacingAndGlyphs" stroke="#222" stroke-width="0.3">10</text>
<text x="196.75" y="173.50" font-family="Liberation Sans" font-weight="normal" font-size="3.3" text-anchor="middle" fill="#222" stroke="#222" stroke-width="0.25">3</text>
<line x1="206.50" y1="168.60" x2="206.50" y2="170.60" stroke="#222" stroke-width="0.7"/>
<text x="205.65" y="175.90" font-family="Liberation Sans" font-weight="normal" font-size="4.7" text-anchor="middle" fill="#222" textLength="4.2" lengthAdjust="spacingAndGlyphs" stroke="#222" stroke-width="0.3">10</text>
<text x="208.65" y="173.50" font-family="Liberation Sans" font-weight="normal" font-size="3.3" text-anchor="middle" fill="#222" stroke="#222" stroke-width="0.25">4</text>
<line x1="162.48" y1="168.60" x2="162.48" y2="169.80" stroke="#555" stroke-width="0.35"/>
<line x1="164.58" y1="168.60" x2="164.58" y2="169.80" stroke="#555" stroke-width="0.35"/>
<line x1="166.06" y1="168.60" x2="166.06" y2="169.80" stroke="#555" stroke-width="0.35"/>
<line x1="167.22" y1="168.60" x2="167.22" y2="169.80" stroke="#555" stroke-width="0.35"/>
<line x1="168.16" y1="168.60" x2="168.16" y2="169.80" stroke="#555" stroke-width="0.35"/>
<line x1="168.96" y1="168.60" x2="168.96" y2="169.80" stroke="#555" stroke-width="0.35"/>
<line x1="169.65" y1="168.60" x2="169.65" y2="169.80" stroke="#555" stroke-width="0.35"/>
<line x1="170.26" y1="168.60" x2="170.26" y2="169.80" stroke="#555" stroke-width="0.35"/>
<line x1="174.38" y1="168.60" x2="174.38" y2="169.80" stroke="#555" stroke-width="0.35"/>
<line x1="176.48" y1="168.60" x2="176.48" y2="169.80" stroke="#555" stroke-width="0.35"/>
<line x1="177.96" y1="168.60" x2="177.96" y2="169.80" stroke="#555" stroke-width="0.35"/>
<line x1="179.12" y1="168.60" x2="179.12" y2="169.80" stroke="#555" stroke-width="0.35"/>
<line x1="180.06" y1="168.60" x2="180.06" y2="169.80" stroke="#555" stroke-width="0.35"/>
<line x1="180.86" y1="168.60" x2="180.86" y2="169.80" stroke="#555" stroke-width="0.35"/>
<line x1="181.55" y1="168.60" x2="181.55" y2="169.80" stroke="#555" stroke-width="0.35"/>
<line x1="182.16" y1="168.60" x2="182.16" y2="169.80" stroke="#555" stroke-width="0.35"/>
<line x1="186.28" y1="168.60" x2="186.28" y2="169.80" stroke="#555" stroke-width="0.35"/>
<line x1="188.38" y1="168.60" x2="188.38" y2="169.80" stroke="#555" stroke-width="0.35"/>
<line x1="189.86" y1="168.60" x2="189.86" y2="169.80" stroke="#555" stroke-width="0.35"/>
<line x1="191.02" y1="168.60" x2="191.02" y2="169.80" stroke="#555" stroke-width="0.35"/>
<line x1="191.96" y1="168.60" x2="191.96" y2="169.80" stroke="#555" stroke-width="0.35"/>
<line x1="192.76" y1="168.60" x2="192.76" y2="169.80" stroke="#555" stroke-width="0.35"/>
<line x1="193.45" y1="168.60" x2="193.45" y2="169.80" stroke="#555" stroke-width="0.35"/>
<line x1="194.06" y1="168.60" x2="194.06" y2="169.80" stroke="#555" stroke-width="0.35"/>
<line x1="198.18" y1="168.60" x2="198.18" y2="169.80" stroke="#555" stroke-width="0.35"/>
<line x1="200.28" y1="168.60" x2="200.28" y2="169.80" stroke="#555" stroke-width="0.35"/>
<line x1="201.76" y1="168.60" x2="201.76" y2="169.80" stroke="#555" stroke-width="0.35"/>
<line x1="202.92" y1="168.60" x2="202.92" y2="169.80" stroke="#555" stroke-width="0.35"/>
<line x1="203.86" y1="168.60" x2="203.86" y2="169.80" stroke="#555" stroke-width="0.35"/>
<line x1="204.66" y1="168.60" x2="204.66" y2="169.80" stroke="#555" stroke-width="0.35"/>
<line x1="205.35" y1="168.60" x2="205.35" y2="169.80" stroke="#555" stroke-width="0.35"/>
<line x1="205.96" y1="168.60" x2="205.96" y2="169.80" stroke="#555" stroke-width="0.35"/>
<line x1="156.00" y1="133.20" x2="158.40" y2="133.20" stroke="#222" stroke-width="0.6"/>
<line x1="156.90" y1="136.74" x2="158.40" y2="136.74" stroke="#222" stroke-width="0.6"/>
<line x1="156.90" y1="140.28" x2="158.40" y2="140.28" stroke="#222" stroke-width="0.6"/>
<line x1="156.90" y1="143.82" x2="158.40" y2="143.82" stroke="#222" stroke-width="0.6"/>
<line x1="156.90" y1="147.36" x2="158.40" y2="147.36" stroke="#222" stroke-width="0.6"/>
<line x1="156.90" y1="150.90" x2="158.40" y2="150.90" stroke="#222" stroke-width="0.6"/>
<line x1="156.90" y1="154.44" x2="158.40" y2="154.44" stroke="#222" stroke-width="0.6"/>
<line x1="156.90" y1="157.98" x2="158.40" y2="157.98" stroke="#222" stroke-width="0.6"/>
<line x1="156.90" y1="161.52" x2="158.40" y2="161.52" stroke="#222" stroke-width="0.6"/>
<line x1="156.90" y1="165.06" x2="158.40" y2="165.06" stroke="#222" stroke-width="0.6"/>
<line x1="156.00" y1="168.60" x2="158.40" y2="168.60" stroke="#222" stroke-width="0.6"/>
<text x="154.40" y="132.80" font-family="Liberation Sans" font-weight="normal" font-size="3.8" text-anchor="middle" fill="#222" transform="rotate(-90 154.40 132.80)" stroke="#222" stroke-width="0.25">200</text>
<text x="154.40" y="168.20" font-family="Liberation Sans" font-weight="normal" font-size="3.8" text-anchor="middle" fill="#222" transform="rotate(-90 154.40 168.20)" stroke="#222" stroke-width="0.25">0</text>
<path d="M249.00 168.60 L249.00 167.12 L249.50 166.95 L250.00 166.74 L250.50 166.51 L251.00 166.24 L251.50 165.95 L252.00 165.64 L252.50 165.32 L253.00 165.01 L253.50 164.73 L254.00 164.47 L254.50 164.26 L255.00 164.10 L255.50 164.00 L256.00 163.96 L256.50 163.98 L257.00 164.04 L257.50 164.15 L258.00 164.29 L258.50 164.45 L259.00 164.61 L259.50 164.77 L260.00 164.92 L260.50 165.05 L261.00 165.16 L261.50 165.24 L262.00 165.30 L262.50 165.33 L263.00 165.33 L263.50 165.30 L264.00 165.22 L264.50 165.09 L265.00 164.92 L265.50 164.70 L266.00 164.43 L266.50 164.13 L267.00 163.81 L267.50 163.48 L268.00 163.17 L268.50 162.89 L269.00 162.66 L269.50 162.50 L270.00 162.43 L270.50 162.44 L271.00 162.55 L271.50 162.74 L272.00 163.01 L272.50 163.33 L273.00 163.70 L273.50 164.10 L274.00 164.51 L274.50 164.90 L275.00 165.27 L275.50 165.61 L276.00 165.92 L276.50 166.18 L277.00 166.40 L277.50 166.58 L278.00 166.72 L278.50 166.84 L279.00 166.94 L279.50 167.02 L280.00 167.08 L280.50 167.14 L281.00 167.19 L281.50 167.24 L282.00 167.28 L282.50 167.33 L283.00 167.37 L283.50 167.41 L284.00 167.45 L284.50 167.49 L285.00 167.52 L285.50 167.55 L286.00 167.58 L286.50 167.61 L287.00 167.63 L287.50 167.64 L288.00 167.66 L288.50 167.67 L289.00 167.68 L289.50 167.68 L290.00 167.69 L290.50 167.69 L291.00 167.69 L291.50 167.70 L292.00 167.70 L292.50 167.70 L293.00 167.70 L293.50 167.70 L294.00 167.70 L294.50 167.70 L295.00 167.70 L295.50 167.70 L295.50 168.60 Z" fill="#555"/>
<path d="M249.70 167.64 L250.20 167.57 L250.70 167.44 L251.20 167.20 L251.70 166.80 L252.20 166.15 L252.70 165.19 L253.20 163.86 L253.70 162.15 L254.20 160.12 L254.70 157.91 L255.20 155.77 L255.70 153.95 L256.20 152.73 L256.70 152.30 L257.20 152.73 L257.70 153.95 L258.20 155.77 L258.70 157.91 L259.20 160.12 L259.70 162.15 L260.20 163.86 L260.70 165.19 L261.20 166.15 L261.70 166.80 L262.20 167.20 L262.70 167.44 L263.20 167.57 L263.70 167.64 L264.20 167.67 L264.70 167.69 L265.20 167.70 L265.70 167.70 L266.20 167.70 L266.70 167.70 L267.20 167.70 L267.70 167.70 L268.20 167.70 L268.70 167.70 L269.20 167.70 L269.70 167.70 L270.20 167.70 L270.70 167.70 L271.20 167.70 L271.70 167.70 L272.20 167.70 L272.70 167.70 L273.20 167.70 L273.70 167.70 L274.20 167.70 L274.70 167.70 L275.20 167.70 L275.70 167.70 L276.20 167.70 L276.70 167.70 L277.20 167.70 L277.70 167.70 L278.20 167.70 L278.70 167.70 L279.20 167.70 L279.70 167.70 L280.20 167.70 L280.70 167.70 L281.20 167.70 L281.70 167.70 L282.20 167.70 L282.70 167.70 L283.20 167.70 L283.70 167.70 L284.20 167.70 L284.70 167.70 L285.20 167.70 L285.70 167.70 L286.20 167.70 L286.70 167.70 L287.20 167.70 L287.70 167.70 L288.20 167.70 L288.70 167.70 L289.20 167.70 L289.70 167.70 L290.20 167.70 L290.70 167.70 L291.20 167.70 L291.70 167.70 L292.20 167.70 L292.70 167.70 L293.20 167.70 L293.70 167.70 L294.20 167.70 L294.70 167.70 L295.20 167.70" fill="none" stroke="#000" stroke-width="1.15" stroke-linejoin="round"/>
<polygon points="248.20,149.80 249.70,149.80 250.10,160.20 251.10,168.60 248.20,168.60" fill="#000"/>
<rect x="248.20" y="133.20" width="48.30" height="35.40" fill="none" stroke="#000" stroke-width="1.1"/>
<line x1="248.20" y1="168.60" x2="296.50" y2="168.60" stroke="#000" stroke-width="1.6"/>
<text x="273.50" y="129.10" font-family="Liberation Serif" font-weight="bold" font-size="7.6" text-anchor="middle" fill="#000" stroke="#000" stroke-width="0.3">AT-2-Ada-DC</text>
<text x="293.00" y="142.80" font-family="Liberation Serif" font-weight="bold" font-size="7.5" text-anchor="end" fill="#000" stroke="#000" stroke-width="0.3">66%</text>
<line x1="248.70" y1="168.60" x2="248.70" y2="170.60" stroke="#222" stroke-width="0.7"/>
<text x="247.85" y="175.90" font-family="Liberation Sans" font-weight="normal" font-size="4.7" text-anchor="middle" fill="#222" textLength="4.2" lengthAdjust="spacingAndGlyphs" stroke="#222" stroke-width="0.3">10</text>
<text x="250.85" y="173.50" font-family="Liberation Sans" font-weight="normal" font-size="3.3" text-anchor="middle" fill="#222" stroke="#222" stroke-width="0.25">0</text>
<line x1="260.57" y1="168.60" x2="260.57" y2="170.60" stroke="#222" stroke-width="0.7"/>
<text x="259.72" y="175.90" font-family="Liberation Sans" font-weight="normal" font-size="4.7" text-anchor="middle" fill="#222" textLength="4.2" lengthAdjust="spacingAndGlyphs" stroke="#222" stroke-width="0.3">10</text>
<text x="262.72" y="173.50" font-family="Liberation Sans" font-weight="normal" font-size="3.3" text-anchor="middle" fill="#222" stroke="#222" stroke-width="0.25">1</text>
<line x1="272.45" y1="168.60" x2="272.45" y2="170.60" stroke="#222" stroke-width="0.7"/>
<text x="271.60" y="175.90" font-family="Liberation Sans" font-weight="normal" font-size="4.7" text-anchor="middle" fill="#222" textLength="4.2" lengthAdjust="spacingAndGlyphs" stroke="#222" stroke-width="0.3">10</text>
<text x="274.60" y="173.50" font-family="Liberation Sans" font-weight="normal" font-size="3.3" text-anchor="middle" fill="#222" stroke="#222" stroke-width="0.25">2</text>
<line x1="284.32" y1="168.60" x2="284.32" y2="170.60" stroke="#222" stroke-width="0.7"/>
<text x="283.47" y="175.90" font-family="Liberation Sans" font-weight="normal" font-size="4.7" text-anchor="middle" fill="#222" textLength="4.2" lengthAdjust="spacingAndGlyphs" stroke="#222" stroke-width="0.3">10</text>
<text x="286.47" y="173.50" font-family="Liberation Sans" font-weight="normal" font-size="3.3" text-anchor="middle" fill="#222" stroke="#222" stroke-width="0.25">3</text>
<line x1="296.20" y1="168.60" x2="296.20" y2="170.60" stroke="#222" stroke-width="0.7"/>
<text x="295.35" y="175.90" font-family="Liberation Sans" font-weight="normal" font-size="4.7" text-anchor="middle" fill="#222" textLength="4.2" lengthAdjust="spacingAndGlyphs" stroke="#222" stroke-width="0.3">10</text>
<text x="298.35" y="173.50" font-family="Liberation Sans" font-weight="normal" font-size="3.3" text-anchor="middle" fill="#222" stroke="#222" stroke-width="0.25">4</text>
<line x1="252.27" y1="168.60" x2="252.27" y2="169.80" stroke="#555" stroke-width="0.35"/>
<line x1="254.37" y1="168.60" x2="254.37" y2="169.80" stroke="#555" stroke-width="0.35"/>
<line x1="255.85" y1="168.60" x2="255.85" y2="169.80" stroke="#555" stroke-width="0.35"/>
<line x1="257.00" y1="168.60" x2="257.00" y2="169.80" stroke="#555" stroke-width="0.35"/>
<line x1="257.94" y1="168.60" x2="257.94" y2="169.80" stroke="#555" stroke-width="0.35"/>
<line x1="258.74" y1="168.60" x2="258.74" y2="169.80" stroke="#555" stroke-width="0.35"/>
<line x1="259.42" y1="168.60" x2="259.42" y2="169.80" stroke="#555" stroke-width="0.35"/>
<line x1="260.03" y1="168.60" x2="260.03" y2="169.80" stroke="#555" stroke-width="0.35"/>
<line x1="264.15" y1="168.60" x2="264.15" y2="169.80" stroke="#555" stroke-width="0.35"/>
<line x1="266.24" y1="168.60" x2="266.24" y2="169.80" stroke="#555" stroke-width="0.35"/>
<line x1="267.72" y1="168.60" x2="267.72" y2="169.80" stroke="#555" stroke-width="0.35"/>
<line x1="268.88" y1="168.60" x2="268.88" y2="169.80" stroke="#555" stroke-width="0.35"/>
<line x1="269.82" y1="168.60" x2="269.82" y2="169.80" stroke="#555" stroke-width="0.35"/>
<line x1="270.61" y1="168.60" x2="270.61" y2="169.80" stroke="#555" stroke-width="0.35"/>
<line x1="271.30" y1="168.60" x2="271.30" y2="169.80" stroke="#555" stroke-width="0.35"/>
<line x1="271.91" y1="168.60" x2="271.91" y2="169.80" stroke="#555" stroke-width="0.35"/>
<line x1="276.02" y1="168.60" x2="276.02" y2="169.80" stroke="#555" stroke-width="0.35"/>
<line x1="278.12" y1="168.60" x2="278.12" y2="169.80" stroke="#555" stroke-width="0.35"/>
<line x1="279.60" y1="168.60" x2="279.60" y2="169.80" stroke="#555" stroke-width="0.35"/>
<line x1="280.75" y1="168.60" x2="280.75" y2="169.80" stroke="#555" stroke-width="0.35"/>
<line x1="281.69" y1="168.60" x2="281.69" y2="169.80" stroke="#555" stroke-width="0.35"/>
<line x1="282.49" y1="168.60" x2="282.49" y2="169.80" stroke="#555" stroke-width="0.35"/>
<line x1="283.17" y1="168.60" x2="283.17" y2="169.80" stroke="#555" stroke-width="0.35"/>
<line x1="283.78" y1="168.60" x2="283.78" y2="169.80" stroke="#555" stroke-width="0.35"/>
<line x1="287.90" y1="168.60" x2="287.90" y2="169.80" stroke="#555" stroke-width="0.35"/>
<line x1="289.99" y1="168.60" x2="289.99" y2="169.80" stroke="#555" stroke-width="0.35"/>
<line x1="291.47" y1="168.60" x2="291.47" y2="169.80" stroke="#555" stroke-width="0.35"/>
<line x1="292.63" y1="168.60" x2="292.63" y2="169.80" stroke="#555" stroke-width="0.35"/>
<line x1="293.57" y1="168.60" x2="293.57" y2="169.80" stroke="#555" stroke-width="0.35"/>
<line x1="294.36" y1="168.60" x2="294.36" y2="169.80" stroke="#555" stroke-width="0.35"/>
<line x1="295.05" y1="168.60" x2="295.05" y2="169.80" stroke="#555" stroke-width="0.35"/>
<line x1="295.66" y1="168.60" x2="295.66" y2="169.80" stroke="#555" stroke-width="0.35"/>
<line x1="245.80" y1="133.20" x2="248.20" y2="133.20" stroke="#222" stroke-width="0.6"/>
<line x1="246.70" y1="136.74" x2="248.20" y2="136.74" stroke="#222" stroke-width="0.6"/>
<line x1="246.70" y1="140.28" x2="248.20" y2="140.28" stroke="#222" stroke-width="0.6"/>
<line x1="246.70" y1="143.82" x2="248.20" y2="143.82" stroke="#222" stroke-width="0.6"/>
<line x1="246.70" y1="147.36" x2="248.20" y2="147.36" stroke="#222" stroke-width="0.6"/>
<line x1="246.70" y1="150.90" x2="248.20" y2="150.90" stroke="#222" stroke-width="0.6"/>
<line x1="246.70" y1="154.44" x2="248.20" y2="154.44" stroke="#222" stroke-width="0.6"/>
<line x1="246.70" y1="157.98" x2="248.20" y2="157.98" stroke="#222" stroke-width="0.6"/>
<line x1="246.70" y1="161.52" x2="248.20" y2="161.52" stroke="#222" stroke-width="0.6"/>
<line x1="246.70" y1="165.06" x2="248.20" y2="165.06" stroke="#222" stroke-width="0.6"/>
<line x1="245.80" y1="168.60" x2="248.20" y2="168.60" stroke="#222" stroke-width="0.6"/>
<text x="244.20" y="132.80" font-family="Liberation Sans" font-weight="normal" font-size="3.8" text-anchor="middle" fill="#222" transform="rotate(-90 244.20 132.80)" stroke="#222" stroke-width="0.25">200</text>
<text x="244.20" y="168.20" font-family="Liberation Sans" font-weight="normal" font-size="3.8" text-anchor="middle" fill="#222" transform="rotate(-90 244.20 168.20)" stroke="#222" stroke-width="0.25">0</text>
<rect x="495.50" y="6.10" width="4.2" height="4.2" fill="#fff" stroke="#000" stroke-width="0.8"/>
<text x="501.40" y="11.40" font-family="Liberation Serif" font-weight="bold" font-size="9.2" text-anchor="start" fill="#000" stroke="#000" stroke-width="0.3">iDC</text>
<rect x="521.90" y="6.10" width="4.2" height="4.2" fill="#000" stroke="#000" stroke-width="0.8"/>
<text x="527.20" y="11.40" font-family="Liberation Serif" font-weight="bold" font-size="9.2" text-anchor="start" fill="#000" stroke="#000" stroke-width="0.3">mDC</text>
<rect x="550.30" y="6.10" width="4.2" height="4.2" fill="#ccc" stroke="#000" stroke-width="0.8"/>
<text x="556.90" y="11.40" font-family="Liberation Serif" font-weight="bold" font-size="9.2" text-anchor="start" fill="#000" stroke="#000" stroke-width="0.3">Ada-DC</text>
<rect x="468.80" y="19.50" width="155.80" height="67.30" fill="#fff" stroke="#888" stroke-width="0.8"/>
<line x1="468.80" y1="19.50" x2="624.60" y2="19.50" stroke="#444" stroke-width="0.8"/>
<polygon points="461.30,91.10 468.80,86.80 468.80,19.50 461.30,23.40" fill="#fff" stroke="#444" stroke-width="0.8" stroke-linejoin="round"/>
<polygon points="461.30,91.10 617.40,91.10 624.60,86.80 468.80,86.80" fill="#fff" stroke="#444" stroke-width="0.7" stroke-linejoin="round"/>
<line x1="461.30" y1="91.10" x2="617.40" y2="91.10" stroke="#888" stroke-width="0.9"/>
<line x1="459.10" y1="91.10" x2="461.30" y2="91.10" stroke="#333" stroke-width="0.7"/>
<text x="455.90" y="94.95" font-family="Liberation Serif" font-weight="bold" font-size="7.5" text-anchor="end" fill="#000" stroke="#000" stroke-width="0.3">0</text>
<line x1="459.10" y1="77.56" x2="461.30" y2="77.56" stroke="#333" stroke-width="0.7"/>
<text x="455.90" y="81.53" font-family="Liberation Serif" font-weight="bold" font-size="7.5" text-anchor="end" fill="#000" stroke="#000" stroke-width="0.3">100</text>
<line x1="459.10" y1="64.02" x2="461.30" y2="64.02" stroke="#333" stroke-width="0.7"/>
<text x="455.90" y="68.11" font-family="Liberation Serif" font-weight="bold" font-size="7.5" text-anchor="end" fill="#000" stroke="#000" stroke-width="0.3">200</text>
<line x1="459.10" y1="50.48" x2="461.30" y2="50.48" stroke="#333" stroke-width="0.7"/>
<text x="455.90" y="54.69" font-family="Liberation Serif" font-weight="bold" font-size="7.5" text-anchor="end" fill="#000" stroke="#000" stroke-width="0.3">300</text>
<line x1="459.10" y1="36.94" x2="461.30" y2="36.94" stroke="#333" stroke-width="0.7"/>
<text x="455.90" y="41.27" font-family="Liberation Serif" font-weight="bold" font-size="7.5" text-anchor="end" fill="#000" stroke="#000" stroke-width="0.3">400</text>
<line x1="459.10" y1="23.40" x2="461.30" y2="23.40" stroke="#333" stroke-width="0.7"/>
<text x="455.90" y="27.85" font-family="Liberation Serif" font-weight="bold" font-size="7.5" text-anchor="end" fill="#000" stroke="#000" stroke-width="0.3">500</text>
<text x="431.20" y="49.90" font-family="Liberation Serif" font-weight="bold" font-size="7.5" text-anchor="middle" fill="#000" transform="rotate(-90 431.20 49.90)" stroke="#000" stroke-width="0.3">IL-12 (pg/ml)</text>
<polygon points="469.40,89.50 478.20,89.50 481.10,87.69 472.30,87.69" fill="#eee" stroke="#444" stroke-width="0.45" stroke-linejoin="round"/>
<polygon points="478.20,89.50 487.00,89.50 489.90,87.69 481.10,87.69" fill="#0a0a0a" stroke="#444" stroke-width="0.45" stroke-linejoin="round"/>
<polygon points="487.00,89.50 495.80,89.50 498.70,87.69 489.90,87.69" fill="#505050" stroke="#444" stroke-width="0.45" stroke-linejoin="round"/>
<polygon points="508.80,89.50 517.60,89.50 520.50,87.69 511.70,87.69" fill="#eee" stroke="#444" stroke-width="0.45" stroke-linejoin="round"/>
<polygon points="517.60,89.50 526.40,89.50 529.30,87.69 529.30,62.19 520.50,62.19 517.60,64.00" fill="#000" stroke="#000" stroke-width="0.6" stroke-linejoin="round"/>
<polygon points="526.40,89.50 535.20,89.50 538.10,87.69 529.30,87.69" fill="#505050" stroke="#444" stroke-width="0.45" stroke-linejoin="round"/>
<polygon points="547.50,89.50 556.30,89.50 559.20,87.69 550.40,87.69" fill="#eee" stroke="#444" stroke-width="0.45" stroke-linejoin="round"/>
<polygon points="556.30,89.50 565.10,89.50 568.00,87.69 568.00,45.39 559.20,45.39 556.30,47.20" fill="#000" stroke="#000" stroke-width="0.6" stroke-linejoin="round"/>
<polygon points="573.90,89.50 576.80,87.69 576.80,85.19 573.90,87.00" fill="#808080" stroke="#000" stroke-width="0.5" stroke-linejoin="round"/>
<polygon points="565.10,87.00 573.90,87.00 576.80,85.19 568.00,85.19" fill="#666" stroke="#000" stroke-width="0.5" stroke-linejoin="round"/>
<polygon points="565.10,89.50 573.90,89.50 573.90,87.00 565.10,87.00" fill="#d4d4d4" stroke="#000" stroke-width="0.6" stroke-linejoin="round"/>
<polygon points="586.60,89.50 595.40,89.50 598.30,87.69 589.50,87.69" fill="#eee" stroke="#444" stroke-width="0.45" stroke-linejoin="round"/>
<polygon points="595.40,89.50 604.20,89.50 607.10,87.69 607.10,24.79 598.30,24.79 595.40,26.60" fill="#000" stroke="#000" stroke-width="0.6" stroke-linejoin="round"/>
<polygon points="613.00,89.50 615.90,87.69 615.90,82.29 613.00,84.10" fill="#808080" stroke="#000" stroke-width="0.5" stroke-linejoin="round"/>
<polygon points="604.20,84.10 613.00,84.10 615.90,82.29 607.10,82.29" fill="#666" stroke="#000" stroke-width="0.5" stroke-linejoin="round"/>
<polygon points="604.20,89.50 613.00,89.50 613.00,84.10 604.20,84.10" fill="#d4d4d4" stroke="#000" stroke-width="0.6" stroke-linejoin="round"/>
<rect x="468.80" y="113.50" width="155.10" height="64.60" fill="#fff" stroke="#999" stroke-width="0.8"/>
<line x1="468.80" y1="113.50" x2="623.90" y2="113.50" stroke="#666" stroke-width="0.8"/>
<polygon points="461.30,180.50 468.80,178.10 468.80,113.50 461.30,115.90" fill="#fff" stroke="#666" stroke-width="0.8" stroke-linejoin="round"/>
<polygon points="461.30,180.50 616.70,180.50 623.90,178.10 468.80,178.10" fill="#fff" stroke="#666" stroke-width="0.7" stroke-linejoin="round"/>
<line x1="461.30" y1="180.50" x2="616.70" y2="180.50" stroke="#555" stroke-width="0.9"/>
<line x1="459.10" y1="180.50" x2="461.30" y2="180.50" stroke="#333" stroke-width="0.7"/>
<text x="455.90" y="185.65" font-family="Liberation Serif" font-weight="bold" font-size="7.5" text-anchor="end" fill="#000" stroke="#000" stroke-width="0.3">0</text>
<line x1="459.10" y1="167.58" x2="461.30" y2="167.58" stroke="#333" stroke-width="0.7"/>
<text x="455.90" y="172.61" font-family="Liberation Serif" font-weight="bold" font-size="7.5" text-anchor="end" fill="#000" stroke="#000" stroke-width="0.3">2000</text>
<line x1="459.10" y1="154.66" x2="461.30" y2="154.66" stroke="#333" stroke-width="0.7"/>
<text x="455.90" y="159.57" font-family="Liberation Serif" font-weight="bold" font-size="7.5" text-anchor="end" fill="#000" stroke="#000" stroke-width="0.3">4000</text>
<line x1="459.10" y1="141.74" x2="461.30" y2="141.74" stroke="#333" stroke-width="0.7"/>
<text x="455.90" y="146.53" font-family="Liberation Serif" font-weight="bold" font-size="7.5" text-anchor="end" fill="#000" stroke="#000" stroke-width="0.3">6000</text>
<line x1="459.10" y1="128.82" x2="461.30" y2="128.82" stroke="#333" stroke-width="0.7"/>
<text x="455.90" y="133.49" font-family="Liberation Serif" font-weight="bold" font-size="7.5" text-anchor="end" fill="#000" stroke="#000" stroke-width="0.3">8000</text>
<line x1="459.10" y1="115.90" x2="461.30" y2="115.90" stroke="#333" stroke-width="0.7"/>
<text x="455.90" y="120.45" font-family="Liberation Serif" font-weight="bold" font-size="7.5" text-anchor="end" fill="#000" stroke="#000" stroke-width="0.3">10000</text>
<text x="431.20" y="141.50" font-family="Liberation Serif" font-weight="bold" font-size="7.5" text-anchor="middle" fill="#000" transform="rotate(-90 431.20 141.50)" stroke="#000" stroke-width="0.3">TNF-α (pg/ml)</text>
<polygon points="470.70,179.50 479.50,179.50 481.40,178.49 472.60,178.49" fill="#bbb" stroke="#444" stroke-width="0.45" stroke-linejoin="round"/>
<polygon points="479.50,179.50 488.30,179.50 490.20,178.49 490.20,154.59 481.40,154.59 479.50,155.60" fill="#000" stroke="#000" stroke-width="0.6" stroke-linejoin="round"/>
<polygon points="488.30,179.50 497.10,179.50 499.00,178.49 490.20,178.49" fill="#505050" stroke="#444" stroke-width="0.45" stroke-linejoin="round"/>
<polygon points="509.20,179.50 518.00,179.50 519.90,178.49 511.10,178.49" fill="#bbb" stroke="#444" stroke-width="0.45" stroke-linejoin="round"/>
<polygon points="518.00,179.50 526.80,179.50 528.70,178.49 528.70,117.59 519.90,117.59 518.00,118.60" fill="#000" stroke="#000" stroke-width="0.6" stroke-linejoin="round"/>
<polygon points="526.80,179.50 535.60,179.50 537.50,178.49 528.70,178.49" fill="#505050" stroke="#444" stroke-width="0.45" stroke-linejoin="round"/>
<polygon points="547.50,179.50 556.30,179.50 558.20,178.49 549.40,178.49" fill="#bbb" stroke="#444" stroke-width="0.45" stroke-linejoin="round"/>
<polygon points="556.30,179.50 565.10,179.50 567.00,178.49 567.00,138.39 558.20,138.39 556.30,139.40" fill="#000" stroke="#000" stroke-width="0.6" stroke-linejoin="round"/>
<polygon points="565.10,179.50 573.90,179.50 575.80,178.49 567.00,178.49" fill="#505050" stroke="#444" stroke-width="0.45" stroke-linejoin="round"/>
<polygon points="586.40,179.50 595.20,179.50 597.10,178.49 588.30,178.49" fill="#bbb" stroke="#444" stroke-width="0.45" stroke-linejoin="round"/>
<polygon points="595.20,179.50 604.00,179.50 605.90,178.49 605.90,150.09 597.10,150.09 595.20,151.10" fill="#000" stroke="#000" stroke-width="0.6" stroke-linejoin="round"/>
<polygon points="604.00,179.50 612.80,179.50 614.70,178.49 605.90,178.49" fill="#505050" stroke="#444" stroke-width="0.45" stroke-linejoin="round"/>
<rect x="467.40" y="194.40" width="157.40" height="60.40" fill="#fff" stroke="#aaa" stroke-width="0.8"/>
<line x1="467.40" y1="194.40" x2="624.80" y2="194.40" stroke="#777" stroke-width="0.8"/>
<polygon points="459.40,258.00 467.40,254.80 467.40,194.40 459.40,197.40" fill="#fff" stroke="#777" stroke-width="0.8" stroke-linejoin="round"/>
<polygon points="459.40,258.00 617.00,258.00 624.80,254.80 467.40,254.80" fill="#fff" stroke="#777" stroke-width="0.7" stroke-linejoin="round"/>
<line x1="459.40" y1="258.00" x2="617.00" y2="258.00" stroke="#aaa" stroke-width="0.9"/>
<line x1="457.20" y1="258.00" x2="459.40" y2="258.00" stroke="#333" stroke-width="0.7"/>
<text x="455.40" y="263.35" font-family="Liberation Serif" font-weight="bold" font-size="7.5" text-anchor="end" fill="#000" stroke="#000" stroke-width="0.3">0</text>
<line x1="457.20" y1="242.85" x2="459.40" y2="242.85" stroke="#333" stroke-width="0.7"/>
<text x="455.40" y="248.37" font-family="Liberation Serif" font-weight="bold" font-size="7.5" text-anchor="end" fill="#000" stroke="#000" stroke-width="0.3">10</text>
<line x1="457.20" y1="227.70" x2="459.40" y2="227.70" stroke="#333" stroke-width="0.7"/>
<text x="455.40" y="233.39" font-family="Liberation Serif" font-weight="bold" font-size="7.5" text-anchor="end" fill="#000" stroke="#000" stroke-width="0.3">20</text>
<line x1="457.20" y1="212.55" x2="459.40" y2="212.55" stroke="#333" stroke-width="0.7"/>
<text x="455.40" y="218.41" font-family="Liberation Serif" font-weight="bold" font-size="7.5" text-anchor="end" fill="#000" stroke="#000" stroke-width="0.3">30</text>
<line x1="457.20" y1="197.40" x2="459.40" y2="197.40" stroke="#333" stroke-width="0.7"/>
<text x="455.40" y="203.43" font-family="Liberation Serif" font-weight="bold" font-size="7.5" text-anchor="end" fill="#000" stroke="#000" stroke-width="0.3">40</text>
<text x="431.20" y="228.30" font-family="Liberation Serif" font-weight="bold" font-size="7.5" text-anchor="middle" fill="#000" transform="rotate(-90 431.20 228.30)" stroke="#000" stroke-width="0.3">IL-10 (pg/ml)</text>
<polygon points="477.60,257.20 480.50,255.86 480.50,254.16 477.60,255.50" fill="#ddd" stroke="#000" stroke-width="0.5" stroke-linejoin="round"/>
<polygon points="468.80,255.50 477.60,255.50 480.50,254.16 471.70,254.16" fill="#444" stroke="#000" stroke-width="0.5" stroke-linejoin="round"/>
<polygon points="468.80,257.20 477.60,257.20 477.60,255.50 468.80,255.50" fill="#fff" stroke="#000" stroke-width="0.6" stroke-linejoin="round"/>
<polygon points="477.60,257.20 486.40,257.20 489.30,255.86 489.30,243.96 480.50,243.96 477.60,245.30" fill="#000" stroke="#000" stroke-width="0.6" stroke-linejoin="round"/>
<polygon points="495.20,257.20 498.10,255.86 498.10,254.26 495.20,255.60" fill="#808080" stroke="#000" stroke-width="0.5" stroke-linejoin="round"/>
<polygon points="486.40,255.60 495.20,255.60 498.10,254.26 489.30,254.26" fill="#666" stroke="#000" stroke-width="0.5" stroke-linejoin="round"/>
<polygon points="486.40,257.20 495.20,257.20 495.20,255.60 486.40,255.60" fill="#d4d4d4" stroke="#000" stroke-width="0.6" stroke-linejoin="round"/>
<polygon points="517.10,257.20 520.00,255.86 520.00,254.16 517.10,255.50" fill="#ddd" stroke="#000" stroke-width="0.5" stroke-linejoin="round"/>
<polygon points="508.30,255.50 517.10,255.50 520.00,254.16 511.20,254.16" fill="#444" stroke="#000" stroke-width="0.5" stroke-linejoin="round"/>
<polygon points="508.30,257.20 517.10,257.20 517.10,255.50 508.30,255.50" fill="#fff" stroke="#000" stroke-width="0.6" stroke-linejoin="round"/>
<polygon points="517.10,257.20 525.90,257.20 528.80,255.86 528.80,210.56 520.00,210.56 517.10,211.90" fill="#000" stroke="#000" stroke-width="0.6" stroke-linejoin="round"/>
<polygon points="534.70,257.20 537.60,255.86 537.60,254.26 534.70,255.60" fill="#808080" stroke="#000" stroke-width="0.5" stroke-linejoin="round"/>
<polygon points="525.90,255.60 534.70,255.60 537.60,254.26 528.80,254.26" fill="#666" stroke="#000" stroke-width="0.5" stroke-linejoin="round"/>
<polygon points="525.90,257.20 534.70,257.20 534.70,255.60 525.90,255.60" fill="#d4d4d4" stroke="#000" stroke-width="0.6" stroke-linejoin="round"/>
<polygon points="556.30,257.20 559.20,255.86 559.20,254.16 556.30,255.50" fill="#ddd" stroke="#000" stroke-width="0.5" stroke-linejoin="round"/>
<polygon points="547.50,255.50 556.30,255.50 559.20,254.16 550.40,254.16" fill="#444" stroke="#000" stroke-width="0.5" stroke-linejoin="round"/>
<polygon points="547.50,257.20 556.30,257.20 556.30,255.50 547.50,255.50" fill="#fff" stroke="#000" stroke-width="0.6" stroke-linejoin="round"/>
<polygon points="556.30,257.20 565.10,257.20 568.00,255.86 568.00,202.96 559.20,202.96 556.30,204.30" fill="#000" stroke="#000" stroke-width="0.6" stroke-linejoin="round"/>
<polygon points="573.90,257.20 576.80,255.86 576.80,254.26 573.90,255.60" fill="#808080" stroke="#000" stroke-width="0.5" stroke-linejoin="round"/>
<polygon points="565.10,255.60 573.90,255.60 576.80,254.26 568.00,254.26" fill="#666" stroke="#000" stroke-width="0.5" stroke-linejoin="round"/>
<polygon points="565.10,257.20 573.90,257.20 573.90,255.60 565.10,255.60" fill="#d4d4d4" stroke="#000" stroke-width="0.6" stroke-linejoin="round"/>
<polygon points="595.40,257.20 598.30,255.86 598.30,254.16 595.40,255.50" fill="#ddd" stroke="#000" stroke-width="0.5" stroke-linejoin="round"/>
<polygon points="586.60,255.50 595.40,255.50 598.30,254.16 589.50,254.16" fill="#444" stroke="#000" stroke-width="0.5" stroke-linejoin="round"/>
<polygon points="586.60,257.20 595.40,257.20 595.40,255.50 586.60,255.50" fill="#fff" stroke="#000" stroke-width="0.6" stroke-linejoin="round"/>
<polygon points="595.40,257.20 604.20,257.20 607.10,255.86 607.10,207.46 598.30,207.46 595.40,208.80" fill="#000" stroke="#000" stroke-width="0.6" stroke-linejoin="round"/>
<polygon points="613.00,257.20 615.90,255.86 615.90,254.26 613.00,255.60" fill="#808080" stroke="#000" stroke-width="0.5" stroke-linejoin="round"/>
<polygon points="604.20,255.60 613.00,255.60 615.90,254.26 607.10,254.26" fill="#666" stroke="#000" stroke-width="0.5" stroke-linejoin="round"/>
<polygon points="604.20,257.20 613.00,257.20 613.00,255.60 604.20,255.60" fill="#d4d4d4" stroke="#000" stroke-width="0.6" stroke-linejoin="round"/>
<text x="481.50" y="268.90" font-family="Liberation Serif" font-weight="bold" font-size="7.5" text-anchor="middle" fill="#000" stroke="#000" stroke-width="0.3">6</text>
<text x="518.90" y="268.90" font-family="Liberation Serif" font-weight="bold" font-size="7.5" text-anchor="middle" fill="#000" stroke="#000" stroke-width="0.3">12</text>
<text x="557.60" y="268.90" font-family="Liberation Serif" font-weight="bold" font-size="7.5" text-anchor="middle" fill="#000" stroke="#000" stroke-width="0.3">24</text>
<text x="596.50" y="268.90" font-family="Liberation Serif" font-weight="bold" font-size="7.5" text-anchor="middle" fill="#000" stroke="#000" stroke-width="0.3">48</text>
<text x="538.50" y="280.20" font-family="Liberation Serif" font-weight="bold" font-size="7.5" text-anchor="middle" fill="#000" stroke="#000" stroke-width="0.3">hours</text>
<rect x="131.30" y="243.30" width="4.2" height="4.2" fill="#fff" stroke="#000" stroke-width="0.8"/>
<text x="138.30" y="248.60" font-family="Liberation Serif" font-weight="bold" font-size="9.2" text-anchor="start" fill="#000" stroke="#000" stroke-width="0.3">iDC</text>
<rect x="158.10" y="243.30" width="4.2" height="4.2" fill="#000" stroke="#000" stroke-width="0.8"/>
<text x="164.80" y="248.60" font-family="Liberation Serif" font-weight="bold" font-size="9.2" text-anchor="start" fill="#000" stroke="#000" stroke-width="0.3">mDC</text>
<rect x="189.00" y="243.30" width="4.2" height="4.2" fill="#bbb" stroke="#000" stroke-width="0.8"/>
<text x="196.40" y="248.60" font-family="Liberation Serif" font-weight="bold" font-size="9.2" text-anchor="start" fill="#000" stroke="#000" stroke-width="0.3">Ada-DC</text>
<rect x="102.60" y="256.40" width="158.10" height="55.70" fill="#fff" stroke="#999" stroke-width="0.8"/>
<line x1="102.60" y1="256.40" x2="260.70" y2="256.40" stroke="#444" stroke-width="0.8"/>
<polygon points="95.50,316.50 102.60,312.10 102.60,256.40 95.50,260.60" fill="#fff" stroke="#444" stroke-width="0.8" stroke-linejoin="round"/>
<polygon points="95.50,316.50 254.20,316.50 260.70,312.10 102.60,312.10" fill="#fff" stroke="#444" stroke-width="0.7" stroke-linejoin="round"/>
<line x1="95.50" y1="316.50" x2="254.20" y2="316.50" stroke="#777" stroke-width="0.9"/>
<line x1="93.30" y1="316.50" x2="95.50" y2="316.50" stroke="#333" stroke-width="0.7"/>
<text x="92.10" y="320.55" font-family="Liberation Serif" font-weight="bold" font-size="7.5" text-anchor="end" fill="#000" stroke="#000" stroke-width="0.3">0</text>
<line x1="93.30" y1="305.32" x2="95.50" y2="305.32" stroke="#333" stroke-width="0.7"/>
<text x="92.10" y="309.41" font-family="Liberation Serif" font-weight="bold" font-size="7.5" text-anchor="end" fill="#000" stroke="#000" stroke-width="0.3">5</text>
<line x1="93.30" y1="294.14" x2="95.50" y2="294.14" stroke="#333" stroke-width="0.7"/>
<text x="92.10" y="298.27" font-family="Liberation Serif" font-weight="bold" font-size="7.5" text-anchor="end" fill="#000" stroke="#000" stroke-width="0.3">10</text>
<line x1="93.30" y1="282.96" x2="95.50" y2="282.96" stroke="#333" stroke-width="0.7"/>
<text x="92.10" y="287.13" font-family="Liberation Serif" font-weight="bold" font-size="7.5" text-anchor="end" fill="#000" stroke="#000" stroke-width="0.3">15</text>
<line x1="93.30" y1="271.78" x2="95.50" y2="271.78" stroke="#333" stroke-width="0.7"/>
<text x="92.10" y="275.99" font-family="Liberation Serif" font-weight="bold" font-size="7.5" text-anchor="end" fill="#000" stroke="#000" stroke-width="0.3">20</text>
<line x1="93.30" y1="260.60" x2="95.50" y2="260.60" stroke="#333" stroke-width="0.7"/>
<text x="92.10" y="264.85" font-family="Liberation Serif" font-weight="bold" font-size="7.5" text-anchor="end" fill="#000" stroke="#000" stroke-width="0.3">25</text>
<text x="77.40" y="287.60" font-family="Liberation Serif" font-weight="bold" font-size="7.5" text-anchor="middle" fill="#000" transform="rotate(-90 77.40 287.60)" stroke="#000" stroke-width="0.3">CCL3 (ng/ml)</text>
<polygon points="113.30,315.20 116.20,313.35 116.20,309.25 113.30,311.10" fill="#ddd" stroke="#000" stroke-width="0.5" stroke-linejoin="round"/>
<polygon points="104.50,311.10 113.30,311.10 116.20,309.25 107.40,309.25" fill="#fff" stroke="#000" stroke-width="0.5" stroke-linejoin="round"/>
<polygon points="104.50,315.20 113.30,315.20 113.30,311.10 104.50,311.10" fill="#fff" stroke="#000" stroke-width="0.6" stroke-linejoin="round"/>
<polygon points="113.30,315.20 122.10,315.20 125.00,313.35 125.00,288.75 116.20,288.75 113.30,290.60" fill="#000" stroke="#000" stroke-width="0.6" stroke-linejoin="round"/>
<polygon points="130.90,315.20 133.80,313.35 133.80,309.45 130.90,311.30" fill="#666" stroke="#000" stroke-width="0.5" stroke-linejoin="round"/>
<polygon points="122.10,311.30 130.90,311.30 133.80,309.45 125.00,309.45" fill="#555" stroke="#000" stroke-width="0.5" stroke-linejoin="round"/>
<polygon points="122.10,315.20 130.90,315.20 130.90,311.30 122.10,311.30" fill="#b6b6b6" stroke="#000" stroke-width="0.6" stroke-linejoin="round"/>
<polygon points="153.00,315.20 155.90,313.35 155.90,308.05 153.00,309.90" fill="#ddd" stroke="#000" stroke-width="0.5" stroke-linejoin="round"/>
<polygon points="144.20,309.90 153.00,309.90 155.90,308.05 147.10,308.05" fill="#fff" stroke="#000" stroke-width="0.5" stroke-linejoin="round"/>
<polygon points="144.20,315.20 153.00,315.20 153.00,309.90 144.20,309.90" fill="#fff" stroke="#000" stroke-width="0.6" stroke-linejoin="round"/>
<polygon points="153.00,315.20 161.80,315.20 164.70,313.35 164.70,269.05 155.90,269.05 153.00,270.90" fill="#000" stroke="#000" stroke-width="0.6" stroke-linejoin="round"/>
<polygon points="170.60,315.20 173.50,313.35 173.50,307.65 170.60,309.50" fill="#666" stroke="#000" stroke-width="0.5" stroke-linejoin="round"/>
<polygon points="161.80,309.50 170.60,309.50 173.50,307.65 164.70,307.65" fill="#555" stroke="#000" stroke-width="0.5" stroke-linejoin="round"/>
<polygon points="161.80,315.20 170.60,315.20 170.60,309.50 161.80,309.50" fill="#b6b6b6" stroke="#000" stroke-width="0.6" stroke-linejoin="round"/>
<polygon points="192.20,315.20 195.10,313.35 195.10,308.05 192.20,309.90" fill="#ddd" stroke="#000" stroke-width="0.5" stroke-linejoin="round"/>
<polygon points="183.40,309.90 192.20,309.90 195.10,308.05 186.30,308.05" fill="#fff" stroke="#000" stroke-width="0.5" stroke-linejoin="round"/>
<polygon points="183.40,315.20 192.20,315.20 192.20,309.90 183.40,309.90" fill="#fff" stroke="#000" stroke-width="0.6" stroke-linejoin="round"/>
<polygon points="192.20,315.20 201.00,315.20 203.90,313.35 203.90,266.75 195.10,266.75 192.20,268.60" fill="#000" stroke="#000" stroke-width="0.6" stroke-linejoin="round"/>
<polygon points="209.80,315.20 212.70,313.35 212.70,307.45 209.80,309.30" fill="#666" stroke="#000" stroke-width="0.5" stroke-linejoin="round"/>
<polygon points="201.00,309.30 209.80,309.30 212.70,307.45 203.90,307.45" fill="#555" stroke="#000" stroke-width="0.5" stroke-linejoin="round"/>
<polygon points="201.00,315.20 209.80,315.20 209.80,309.30 201.00,309.30" fill="#b6b6b6" stroke="#000" stroke-width="0.6" stroke-linejoin="round"/>
<polygon points="231.40,315.20 234.30,313.35 234.30,307.65 231.40,309.50" fill="#ddd" stroke="#000" stroke-width="0.5" stroke-linejoin="round"/>
<polygon points="222.60,309.50 231.40,309.50 234.30,307.65 225.50,307.65" fill="#fff" stroke="#000" stroke-width="0.5" stroke-linejoin="round"/>
<polygon points="222.60,315.20 231.40,315.20 231.40,309.50 222.60,309.50" fill="#fff" stroke="#000" stroke-width="0.6" stroke-linejoin="round"/>
<polygon points="231.40,315.20 240.20,315.20 243.10,313.35 243.10,264.15 234.30,264.15 231.40,266.00" fill="#000" stroke="#000" stroke-width="0.6" stroke-linejoin="round"/>
<polygon points="249.00,315.20 251.90,313.35 251.90,307.45 249.00,309.30" fill="#666" stroke="#000" stroke-width="0.5" stroke-linejoin="round"/>
<polygon points="240.20,309.30 249.00,309.30 251.90,307.45 243.10,307.45" fill="#555" stroke="#000" stroke-width="0.5" stroke-linejoin="round"/>
<polygon points="240.20,315.20 249.00,315.20 249.00,309.30 240.20,309.30" fill="#b6b6b6" stroke="#000" stroke-width="0.6" stroke-linejoin="round"/>
<rect x="103.80" y="326.50" width="156.90" height="60.90" fill="#fff" stroke="#666" stroke-width="0.8"/>
<line x1="103.80" y1="326.50" x2="260.70" y2="326.50" stroke="#333" stroke-width="0.8"/>
<polygon points="96.40,391.20 103.80,387.40 103.80,326.50 96.40,330.10" fill="#fff" stroke="#333" stroke-width="0.8" stroke-linejoin="round"/>
<polygon points="96.40,391.20 252.90,391.20 260.70,387.40 103.80,387.40" fill="#fff" stroke="#333" stroke-width="0.7" stroke-linejoin="round"/>
<line x1="96.40" y1="391.20" x2="252.90" y2="391.20" stroke="#777" stroke-width="0.9"/>
<line x1="94.20" y1="391.20" x2="96.40" y2="391.20" stroke="#333" stroke-width="0.7"/>
<text x="93.00" y="393.85" font-family="Liberation Serif" font-weight="bold" font-size="7.5" text-anchor="end" fill="#000" stroke="#000" stroke-width="0.3">0</text>
<line x1="94.20" y1="382.47" x2="96.40" y2="382.47" stroke="#333" stroke-width="0.7"/>
<text x="93.00" y="385.14" font-family="Liberation Serif" font-weight="bold" font-size="7.5" text-anchor="end" fill="#000" stroke="#000" stroke-width="0.3">10</text>
<line x1="94.20" y1="373.74" x2="96.40" y2="373.74" stroke="#333" stroke-width="0.7"/>
<text x="93.00" y="376.43" font-family="Liberation Serif" font-weight="bold" font-size="7.5" text-anchor="end" fill="#000" stroke="#000" stroke-width="0.3">20</text>
<line x1="94.20" y1="365.01" x2="96.40" y2="365.01" stroke="#333" stroke-width="0.7"/>
<text x="93.00" y="367.72" font-family="Liberation Serif" font-weight="bold" font-size="7.5" text-anchor="end" fill="#000" stroke="#000" stroke-width="0.3">30</text>
<line x1="94.20" y1="356.29" x2="96.40" y2="356.29" stroke="#333" stroke-width="0.7"/>
<text x="93.00" y="359.01" font-family="Liberation Serif" font-weight="bold" font-size="7.5" text-anchor="end" fill="#000" stroke="#000" stroke-width="0.3">40</text>
<line x1="94.20" y1="347.56" x2="96.40" y2="347.56" stroke="#333" stroke-width="0.7"/>
<text x="93.00" y="350.30" font-family="Liberation Serif" font-weight="bold" font-size="7.5" text-anchor="end" fill="#000" stroke="#000" stroke-width="0.3">50</text>
<line x1="94.20" y1="338.83" x2="96.40" y2="338.83" stroke="#333" stroke-width="0.7"/>
<text x="93.00" y="341.59" font-family="Liberation Serif" font-weight="bold" font-size="7.5" text-anchor="end" fill="#000" stroke="#000" stroke-width="0.3">60</text>
<line x1="94.20" y1="330.10" x2="96.40" y2="330.10" stroke="#333" stroke-width="0.7"/>
<text x="93.00" y="332.88" font-family="Liberation Serif" font-weight="bold" font-size="7.5" text-anchor="end" fill="#000" stroke="#000" stroke-width="0.3">70</text>
<text x="78.20" y="359.00" font-family="Liberation Serif" font-weight="bold" font-size="7.5" text-anchor="middle" fill="#000" transform="rotate(-90 78.20 359.00)" stroke="#000" stroke-width="0.3">CCL4 (ng/ml)</text>
<polygon points="104.50,389.60 113.50,389.60 116.50,388.00 107.50,388.00" fill="#ccc" stroke="#444" stroke-width="0.45" stroke-linejoin="round"/>
<polygon points="113.50,389.60 122.50,389.60 125.50,388.00 125.50,365.00 116.50,365.00 113.50,366.60" fill="#000" stroke="#000" stroke-width="0.6" stroke-linejoin="round"/>
<polygon points="131.50,389.60 134.50,388.00 134.50,386.10 131.50,387.70" fill="#777" stroke="#000" stroke-width="0.5" stroke-linejoin="round"/>
<polygon points="122.50,387.70 131.50,387.70 134.50,386.10 125.50,386.10" fill="#666" stroke="#000" stroke-width="0.5" stroke-linejoin="round"/>
<polygon points="122.50,389.60 131.50,389.60 131.50,387.70 122.50,387.70" fill="#9a9a9a" stroke="#000" stroke-width="0.6" stroke-linejoin="round"/>
<polygon points="143.70,389.60 152.70,389.60 155.70,388.00 146.70,388.00" fill="#ccc" stroke="#444" stroke-width="0.45" stroke-linejoin="round"/>
<polygon points="152.70,389.60 161.70,389.60 164.70,388.00 164.70,332.80 155.70,332.80 152.70,334.40" fill="#000" stroke="#000" stroke-width="0.6" stroke-linejoin="round"/>
<polygon points="170.70,389.60 173.70,388.00 173.70,385.00 170.70,386.60" fill="#777" stroke="#000" stroke-width="0.5" stroke-linejoin="round"/>
<polygon points="161.70,386.60 170.70,386.60 173.70,385.00 164.70,385.00" fill="#666" stroke="#000" stroke-width="0.5" stroke-linejoin="round"/>
<polygon points="161.70,389.60 170.70,389.60 170.70,386.60 161.70,386.60" fill="#9a9a9a" stroke="#000" stroke-width="0.6" stroke-linejoin="round"/>
<polygon points="183.10,389.60 192.10,389.60 195.10,388.00 186.10,388.00" fill="#ccc" stroke="#444" stroke-width="0.45" stroke-linejoin="round"/>
<polygon points="192.10,389.60 201.10,389.60 204.10,388.00 204.10,331.10 195.10,331.10 192.10,332.70" fill="#000" stroke="#000" stroke-width="0.6" stroke-linejoin="round"/>
<polygon points="210.10,389.60 213.10,388.00 213.10,385.70 210.10,387.30" fill="#777" stroke="#000" stroke-width="0.5" stroke-linejoin="round"/>
<polygon points="201.10,387.30 210.10,387.30 213.10,385.70 204.10,385.70" fill="#666" stroke="#000" stroke-width="0.5" stroke-linejoin="round"/>
<polygon points="201.10,389.60 210.10,389.60 210.10,387.30 201.10,387.30" fill="#9a9a9a" stroke="#000" stroke-width="0.6" stroke-linejoin="round"/>
<polygon points="222.80,389.60 231.80,389.60 234.80,388.00 225.80,388.00" fill="#ccc" stroke="#444" stroke-width="0.45" stroke-linejoin="round"/>
<polygon points="231.80,389.60 240.80,389.60 243.80,388.00 243.80,348.10 234.80,348.10 231.80,349.70" fill="#000" stroke="#000" stroke-width="0.6" stroke-linejoin="round"/>
<polygon points="240.80,389.60 249.80,389.60 252.80,388.00 243.80,388.00" fill="#505050" stroke="#444" stroke-width="0.45" stroke-linejoin="round"/>
<rect x="103.80" y="399.60" width="155.70" height="61.90" fill="#fff" stroke="#666" stroke-width="0.8"/>
<line x1="103.80" y1="399.60" x2="259.50" y2="399.60" stroke="#333" stroke-width="0.8"/>
<polygon points="96.40,465.20 103.80,461.50 103.80,399.60 96.40,403.30" fill="#fff" stroke="#333" stroke-width="0.8" stroke-linejoin="round"/>
<polygon points="96.40,465.20 252.90,465.20 259.50,461.50 103.80,461.50" fill="#fff" stroke="#333" stroke-width="0.7" stroke-linejoin="round"/>
<line x1="96.40" y1="465.20" x2="252.90" y2="465.20" stroke="#555" stroke-width="0.9"/>
<line x1="94.20" y1="465.20" x2="96.40" y2="465.20" stroke="#333" stroke-width="0.7"/>
<text x="92.80" y="468.75" font-family="Liberation Serif" font-weight="bold" font-size="7.5" text-anchor="end" fill="#000" stroke="#000" stroke-width="0.3">0</text>
<line x1="94.20" y1="449.73" x2="96.40" y2="449.73" stroke="#333" stroke-width="0.7"/>
<text x="92.80" y="452.92" font-family="Liberation Serif" font-weight="bold" font-size="7.5" text-anchor="end" fill="#000" stroke="#000" stroke-width="0.3">20</text>
<line x1="94.20" y1="434.25" x2="96.40" y2="434.25" stroke="#333" stroke-width="0.7"/>
<text x="92.80" y="437.09" font-family="Liberation Serif" font-weight="bold" font-size="7.5" text-anchor="end" fill="#000" stroke="#000" stroke-width="0.3">40</text>
<line x1="94.20" y1="418.77" x2="96.40" y2="418.77" stroke="#333" stroke-width="0.7"/>
<text x="92.80" y="421.26" font-family="Liberation Serif" font-weight="bold" font-size="7.5" text-anchor="end" fill="#000" stroke="#000" stroke-width="0.3">60</text>
<line x1="94.20" y1="403.30" x2="96.40" y2="403.30" stroke="#333" stroke-width="0.7"/>
<text x="92.80" y="405.43" font-family="Liberation Serif" font-weight="bold" font-size="7.5" text-anchor="end" fill="#000" stroke="#000" stroke-width="0.3">80</text>
<text x="77.70" y="431.20" font-family="Liberation Serif" font-weight="bold" font-size="7.5" text-anchor="middle" fill="#000" transform="rotate(-90 77.70 431.20)" stroke="#000" stroke-width="0.3">CCL5 (ng/ml)</text>
<polygon points="105.10,464.20 113.90,464.20 116.80,462.65 108.00,462.65" fill="#aaa" stroke="#444" stroke-width="0.45" stroke-linejoin="round"/>
<polygon points="113.90,464.20 122.70,464.20 125.60,462.65 125.60,462.25 116.80,462.25 113.90,463.80" fill="#000" stroke="#000" stroke-width="0.6" stroke-linejoin="round"/>
<polygon points="122.70,464.20 131.50,464.20 134.40,462.65 125.60,462.65" fill="#505050" stroke="#444" stroke-width="0.45" stroke-linejoin="round"/>
<polygon points="143.80,464.20 152.60,464.20 155.50,462.65 146.70,462.65" fill="#aaa" stroke="#444" stroke-width="0.45" stroke-linejoin="round"/>
<polygon points="152.60,464.20 161.40,464.20 164.30,462.65 164.30,453.45 155.50,453.45 152.60,455.00" fill="#000" stroke="#000" stroke-width="0.6" stroke-linejoin="round"/>
<polygon points="161.40,464.20 170.20,464.20 173.10,462.65 164.30,462.65" fill="#505050" stroke="#444" stroke-width="0.45" stroke-linejoin="round"/>
<polygon points="183.10,464.20 191.90,464.20 194.80,462.65 186.00,462.65" fill="#aaa" stroke="#444" stroke-width="0.45" stroke-linejoin="round"/>
<polygon points="191.90,464.20 200.70,464.20 203.60,462.65 203.60,430.55 194.80,430.55 191.90,432.10" fill="#000" stroke="#000" stroke-width="0.6" stroke-linejoin="round"/>
<polygon points="200.70,464.20 209.50,464.20 212.40,462.65 203.60,462.65" fill="#505050" stroke="#444" stroke-width="0.45" stroke-linejoin="round"/>
<polygon points="221.60,464.20 230.40,464.20 233.30,462.65 224.50,462.65" fill="#aaa" stroke="#444" stroke-width="0.45" stroke-linejoin="round"/>
<polygon points="230.40,464.20 239.20,464.20 242.10,462.65 242.10,404.85 233.30,404.85 230.40,406.40" fill="#000" stroke="#000" stroke-width="0.6" stroke-linejoin="round"/>
<polygon points="239.20,464.20 248.00,464.20 250.90,462.65 242.10,462.65" fill="#505050" stroke="#444" stroke-width="0.45" stroke-linejoin="round"/>
<text x="116.50" y="474.40" font-family="Liberation Serif" font-weight="bold" font-size="7.5" text-anchor="middle" fill="#000" stroke="#000" stroke-width="0.3">6</text>
<text x="154.70" y="474.40" font-family="Liberation Serif" font-weight="bold" font-size="7.5" text-anchor="middle" fill="#000" stroke="#000" stroke-width="0.3">12</text>
<text x="193.80" y="474.40" font-family="Liberation Serif" font-weight="bold" font-size="7.5" text-anchor="middle" fill="#000" stroke="#000" stroke-width="0.3">24</text>
<text x="232.50" y="474.40" font-family="Liberation Serif" font-weight="bold" font-size="7.5" text-anchor="middle" fill="#000" stroke="#000" stroke-width="0.3">48</text>
<text x="177.90" y="484.00" font-family="Liberation Serif" font-weight="bold" font-size="7.5" text-anchor="middle" fill="#000" stroke="#000" stroke-width="0.3">hours</text>
<path d="M476.8 328.3 V421.4" fill="none" stroke="#666" stroke-width="0.8"/>
<path d="M473.2 421.4 H619.2" fill="none" stroke="#555" stroke-width="0.8"/>
<line x1="473.40000000000003" y1="421.4" x2="476.8" y2="421.4" stroke="#666" stroke-width="0.8"/>
<text x="470.90" y="424.00" font-family="Liberation Serif" font-weight="bold" font-size="7.5" text-anchor="end" fill="#000" stroke="#000" stroke-width="0.3">0</text>
<line x1="473.40000000000003" y1="390.4" x2="476.8" y2="390.4" stroke="#666" stroke-width="0.8"/>
<text x="470.90" y="393.00" font-family="Liberation Serif" font-weight="bold" font-size="7.5" text-anchor="end" fill="#000" stroke="#000" stroke-width="0.3">20000</text>
<line x1="473.40000000000003" y1="359.5" x2="476.8" y2="359.5" stroke="#666" stroke-width="0.8"/>
<text x="470.90" y="362.10" font-family="Liberation Serif" font-weight="bold" font-size="7.5" text-anchor="end" fill="#000" stroke="#000" stroke-width="0.3">40000</text>
<line x1="473.40000000000003" y1="328.6" x2="476.8" y2="328.6" stroke="#666" stroke-width="0.8"/>
<text x="470.90" y="331.20" font-family="Liberation Serif" font-weight="bold" font-size="7.5" text-anchor="end" fill="#000" stroke="#000" stroke-width="0.3">60000</text>
<text x="427.70" y="373.80" font-family="Liberation Serif" font-weight="bold" font-size="7.5" text-anchor="middle" fill="#000" transform="rotate(-90 427.70 373.80)" stroke="#000" stroke-width="0.3">Thymidine incorporation</text>
<text x="440.30" y="373.30" font-family="Liberation Serif" font-weight="bold" font-size="7.5" text-anchor="middle" fill="#000" transform="rotate(-90 440.30 373.30)" stroke="#000" stroke-width="0.3">(c.p.m.)</text>
<text x="494.60" y="433.00" font-family="Liberation Serif" font-weight="bold" font-size="7.5" text-anchor="middle" fill="#000" stroke="#000" stroke-width="0.3">10</text>
<text x="530.30" y="433.00" font-family="Liberation Serif" font-weight="bold" font-size="7.5" text-anchor="middle" fill="#000" stroke="#000" stroke-width="0.3">5</text>
<text x="565.70" y="433.00" font-family="Liberation Serif" font-weight="bold" font-size="7.5" text-anchor="middle" fill="#000" stroke="#000" stroke-width="0.3">2</text>
<text x="601.30" y="433.00" font-family="Liberation Serif" font-weight="bold" font-size="7.5" text-anchor="middle" fill="#000" stroke="#000" stroke-width="0.3">1</text>
<text x="548.6" y="446.4" font-family="Liberation Serif" font-weight="bold" font-size="7.5" text-anchor="middle" stroke="#000" stroke-width="0.3">DC number (x10<tspan font-size="4.6" dy="-2.6">-3</tspan><tspan dy="2.6">)</tspan></text>
<polyline points="494.6,339.9 530.3,357.7 565.7,388.9 601.3,398.0" fill="none" stroke="#000" stroke-width="1"/>
<path d="M494.6 333.5 V346.3 M491.4 333.5 h6.4 M491.4 346.3 h6.4" stroke="#000" stroke-width="0.8" fill="none"/>
<path d="M530.3 351.4 V364.0 M527.1 351.4 h6.4 M527.1 364.0 h6.4" stroke="#000" stroke-width="0.8" fill="none"/>
<path d="M565.7 384.6 V393.2 M562.5 384.6 h6.4 M562.5 393.2 h6.4" stroke="#000" stroke-width="0.8" fill="none"/>
<path d="M601.3 395.3 V400.7 M598.1 395.3 h6.4 M598.1 400.7 h6.4" stroke="#000" stroke-width="0.8" fill="none"/>
<polyline points="494.6,355.7 530.3,374.9 565.7,404.6 601.3,413.2" fill="none" stroke="#000" stroke-width="1"/>
<path d="M494.6 349.1 V362.3 M491.4 349.1 h6.4 M491.4 362.3 h6.4" stroke="#000" stroke-width="0.8" fill="none"/>
<path d="M530.3 370.0 V379.8 M527.1 370.0 h6.4 M527.1 379.8 h6.4" stroke="#000" stroke-width="0.8" fill="none"/>
<path d="M565.7 403.1 V406.1 M562.5 403.1 h6.4 M562.5 406.1 h6.4" stroke="#000" stroke-width="0.8" fill="none"/>
<path d="M601.3 412.0 V414.4 M598.1 412.0 h6.4 M598.1 414.4 h6.4" stroke="#000" stroke-width="0.8" fill="none"/>
<polyline points="494.6,372.0 530.3,388.9 565.7,408.9 601.3,412.7" fill="none" stroke="#000" stroke-width="1"/>
<path d="M494.6 367.8 V376.2 M491.4 367.8 h6.4 M491.4 376.2 h6.4" stroke="#000" stroke-width="0.8" fill="none"/>
<path d="M530.3 385.9 V391.9 M527.1 385.9 h6.4 M527.1 391.9 h6.4" stroke="#000" stroke-width="0.8" fill="none"/>
<path d="M565.7 407.4 V410.4 M562.5 407.4 h6.4 M562.5 410.4 h6.4" stroke="#000" stroke-width="0.8" fill="none"/>
<path d="M601.3 411.5 V413.9 M598.1 411.5 h6.4 M598.1 413.9 h6.4" stroke="#000" stroke-width="0.8" fill="none"/>
<rect x="492.5" y="337.8" width="4.2" height="4.2" fill="#000" stroke="#000" stroke-width="0.8"/>
<rect x="528.2" y="355.6" width="4.2" height="4.2" fill="#000" stroke="#000" stroke-width="0.8"/>
<rect x="563.6" y="386.8" width="4.2" height="4.2" fill="#000" stroke="#000" stroke-width="0.8"/>
<rect x="599.2" y="395.9" width="4.2" height="4.2" fill="#000" stroke="#000" stroke-width="0.8"/>
<rect x="492.5" y="353.6" width="4.2" height="4.2" fill="#fff" stroke="#000" stroke-width="0.8"/>
<rect x="528.2" y="372.8" width="4.2" height="4.2" fill="#fff" stroke="#000" stroke-width="0.8"/>
<rect x="563.6" y="402.5" width="4.2" height="4.2" fill="#fff" stroke="#000" stroke-width="0.8"/>
<rect x="599.2" y="411.1" width="4.2" height="4.2" fill="#fff" stroke="#000" stroke-width="0.8"/>
<polygon points="494.6,368.8 491.8,374.1 497.4,374.1" fill="#000"/>
<polygon points="530.3,385.7 527.5,391.0 533.1,391.0" fill="#000"/>
<polygon points="565.7,405.7 562.9,411.0 568.5,411.0" fill="#000"/>
<polygon points="601.3,409.5 598.5,414.8 604.1,414.8" fill="#000"/>
<line x1="600.5" y1="335.8" x2="618.8" y2="335.8" stroke="#000" stroke-width="1"/>
<rect x="607.6" y="333.7" width="4.2" height="4.2" fill="#fff" stroke="#000" stroke-width="0.8"/>
<text x="622.20" y="338.90" font-family="Liberation Serif" font-weight="normal" font-size="9.4" text-anchor="start" fill="#000" stroke="#000" stroke-width="0.12">iDC</text>
<line x1="600.5" y1="345.1" x2="618.8" y2="345.1" stroke="#000" stroke-width="1"/>
<rect x="607.6" y="343.0" width="4.2" height="4.2" fill="#000" stroke="#000" stroke-width="0.8"/>
<text x="622.20" y="348.20" font-family="Liberation Serif" font-weight="normal" font-size="9.4" text-anchor="start" fill="#000" stroke="#000" stroke-width="0.12">mDC</text>
<line x1="600.5" y1="354.5" x2="618.8" y2="354.5" stroke="#000" stroke-width="1"/>
<polygon points="609.7,351.3 606.9,356.6 612.5,356.6" fill="#000"/>
<text x="622.20" y="357.60" font-family="Liberation Serif" font-weight="normal" font-size="9.4" text-anchor="start" fill="#000" stroke="#000" stroke-width="0.12">Ada-DC</text>
</svg>
</body></html>
